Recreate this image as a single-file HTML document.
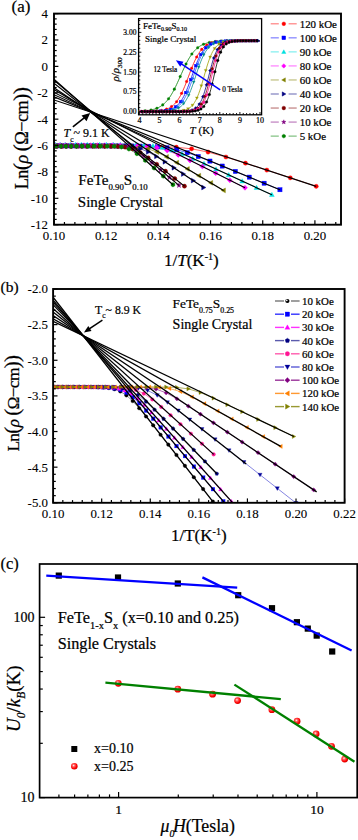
<!DOCTYPE html><html><head><meta charset="utf-8"><style>html,body{margin:0;padding:0;background:#fff;overflow:hidden}svg{display:block}text{font-family:"Liberation Serif",serif;fill:#000;stroke:#000;stroke-width:0.22px}text.tl{stroke-width:0.1px}</style></head><body>
<svg width="358" height="840" viewBox="0 0 358 840">
<rect width="358" height="840" fill="#fff"/>
<defs><clipPath id="ca"><rect x="54.0" y="13.6" width="287.0" height="211.1"/></clipPath></defs>
<g clip-path="url(#ca)">
<path d="M55.9,146.2 L62.97,146.2 L70.43,146.2 L78.31,146.2 L86.66,146.2 L95.51,146.2 L104.9,146.2 L114.9,146.21 L125.56,146.22 L136.96,146.26 L149.16,146.34 L162.26,146.58 L176.36,147.22 L191.58,148.82 L208.05,152.07 L225.95,157.02 L245.47,163.14 L266.82,170.1 L290.29,177.81 L316.21,186.35" fill="none" stroke="#ff0000" stroke-width="0.6" stroke-linejoin="round"/>
<path d="M52.98,145.93 L57.73,145.93 L62.65,145.93 L67.76,145.93 L73.06,145.93 L78.58,145.93 L84.31,145.93 L90.29,145.94 L96.51,145.94 L102.99,145.94 L109.76,145.94 L116.84,145.96 L124.23,145.98 L131.98,146.02 L140.09,146.12 L148.6,146.34 L157.54,146.83 L166.94,147.84 L176.83,149.73 L187.27,152.68 L198.29,156.56 L209.94,161.08 L222.28,166.06 L235.38,171.42 L249.3,177.13 L264.13,183.23 L279.95,189.74" fill="none" stroke="#0000ff" stroke-width="0.6" stroke-linejoin="round"/>
<path d="M55.32,144.61 L60.15,144.61 L65.17,144.61 L70.37,144.61 L75.78,144.61 L81.4,144.61 L87.25,144.62 L93.35,144.62 L99.7,144.62 L106.32,144.63 L113.24,144.64 L120.47,144.67 L128.04,144.73 L135.96,144.88 L144.27,145.21 L152.99,145.98 L162.15,147.54 L171.79,150.23 L181.95,154.01 L192.67,158.57 L204,163.64 L215.99,169.11 L228.7,174.93 L242.19,181.13 L256.55,187.72 L271.86,194.75" fill="none" stroke="#00e0e0" stroke-width="0.6" stroke-linejoin="round"/>
<path d="M54.69,145.27 L60.04,145.27 L65.62,145.27 L71.43,145.27 L77.5,145.27 L83.84,145.27 L90.47,145.28 L97.41,145.28 L104.67,145.28 L112.3,145.29 L120.3,145.32 L128.72,145.4 L137.59,145.61 L146.93,146.18 L156.79,147.62 L167.23,150.52 L178.27,154.96 L189.99,160.44 L202.45,166.55 L215.71,173.15 L229.86,180.21 L244.99,187.76" fill="none" stroke="#ff00ff" stroke-width="0.6" stroke-linejoin="round"/>
<path d="M55.43,145.93 L60.4,145.93 L65.56,145.93 L70.93,145.93 L76.52,145.93 L82.33,145.93 L88.38,145.93 L94.7,145.94 L101.29,145.94 L108.18,145.95 L115.38,145.98 L122.91,146.06 L130.81,146.3 L139.1,146.98 L147.8,148.7 L156.95,152.05 L166.59,156.9 L176.75,162.65 L187.48,168.95 L198.82,175.68 L210.84,182.82 L223.59,190.4" fill="none" stroke="#808000" stroke-width="0.6" stroke-linejoin="round"/>
<path d="M54.33,145.93 L58.72,145.93 L63.26,145.93 L67.96,145.93 L72.82,145.93 L77.86,145.93 L83.08,145.93 L88.49,145.93 L94.12,145.94 L99.96,145.94 L106.03,145.95 L112.35,145.99 L118.93,146.08 L125.79,146.34 L132.94,147.03 L140.4,148.71 L148.2,151.89 L156.36,156.45 L164.9,161.85 L173.85,167.73 L183.25,173.98 L193.12,180.56 L203.5,187.49" fill="none" stroke="#000080" stroke-width="0.6" stroke-linejoin="round"/>
<path d="M56.72,146.33 L61.33,146.33 L66.1,146.33 L71.05,146.33 L76.17,146.33 L81.49,146.33 L87.02,146.33 L92.76,146.33 L98.72,146.34 L104.93,146.35 L111.4,146.4 L118.14,146.58 L125.18,147.15 L132.52,148.84 L140.2,152.49 L148.23,157.91 L156.64,164.3 L165.46,171.2 L174.72,178.5 L184.45,186.17" fill="none" stroke="#800000" stroke-width="0.6" stroke-linejoin="round"/>
<path d="M54.23,145.93 L58.75,145.93 L63.43,145.93 L68.27,145.93 L73.3,145.93 L78.51,145.93 L83.92,145.93 L89.53,145.93 L95.37,145.94 L101.45,145.95 L107.77,145.98 L114.36,146.08 L121.22,146.46 L128.39,147.71 L135.88,150.88 L143.71,156.18 L151.91,162.72 L160.5,169.87 L169.51,177.43 L178.98,185.38" fill="none" stroke="#800080" stroke-width="0.6" stroke-linejoin="round"/>
<path d="M55.89,146.2 L60.74,146.2 L65.78,146.2 L71,146.2 L76.44,146.2 L82.09,146.2 L87.97,146.2 L94.09,146.2 L100.47,146.21 L107.13,146.25 L114.09,146.39 L121.36,146.98 L128.96,149.02 L136.93,153.67 L145.28,160.37 L154.05,167.99 L163.27,176.13 L172.97,184.72" fill="none" stroke="#008000" stroke-width="0.6" stroke-linejoin="round"/>
<circle cx="55.9" cy="146.2" r="2.1" fill="#ff0000" stroke="#ff0000" stroke-width="0.4"/>
<circle cx="62.97" cy="146.2" r="2.1" fill="#ff0000" stroke="#ff0000" stroke-width="0.4"/>
<circle cx="70.43" cy="146.2" r="2.1" fill="#ff0000" stroke="#ff0000" stroke-width="0.4"/>
<circle cx="78.31" cy="146.2" r="2.1" fill="#ff0000" stroke="#ff0000" stroke-width="0.4"/>
<circle cx="86.66" cy="146.2" r="2.1" fill="#ff0000" stroke="#ff0000" stroke-width="0.4"/>
<circle cx="95.51" cy="146.2" r="2.1" fill="#ff0000" stroke="#ff0000" stroke-width="0.4"/>
<circle cx="104.9" cy="146.2" r="2.1" fill="#ff0000" stroke="#ff0000" stroke-width="0.4"/>
<circle cx="114.9" cy="146.21" r="2.1" fill="#ff0000" stroke="#ff0000" stroke-width="0.4"/>
<circle cx="125.56" cy="146.22" r="2.1" fill="#ff0000" stroke="#ff0000" stroke-width="0.4"/>
<circle cx="136.96" cy="146.26" r="2.1" fill="#ff0000" stroke="#ff0000" stroke-width="0.4"/>
<circle cx="149.16" cy="146.34" r="2.1" fill="#ff0000" stroke="#ff0000" stroke-width="0.4"/>
<circle cx="162.26" cy="146.58" r="2.1" fill="#ff0000" stroke="#ff0000" stroke-width="0.4"/>
<circle cx="176.36" cy="147.22" r="2.1" fill="#ff0000" stroke="#ff0000" stroke-width="0.4"/>
<circle cx="191.58" cy="148.82" r="2.1" fill="#ff0000" stroke="#ff0000" stroke-width="0.4"/>
<circle cx="208.05" cy="152.07" r="2.1" fill="#ff0000" stroke="#ff0000" stroke-width="0.4"/>
<circle cx="225.95" cy="157.02" r="2.1" fill="#ff0000" stroke="#ff0000" stroke-width="0.4"/>
<circle cx="245.47" cy="163.14" r="2.1" fill="#ff0000" stroke="#ff0000" stroke-width="0.4"/>
<circle cx="266.82" cy="170.1" r="2.1" fill="#ff0000" stroke="#ff0000" stroke-width="0.4"/>
<circle cx="290.29" cy="177.81" r="2.1" fill="#ff0000" stroke="#ff0000" stroke-width="0.4"/>
<circle cx="316.21" cy="186.35" r="2.1" fill="#ff0000" stroke="#ff0000" stroke-width="0.4"/>
<rect x="50.88" y="143.83" width="4.2" height="4.2" fill="#0000ff" stroke="#0000ff" stroke-width="0.4"/>
<rect x="55.63" y="143.83" width="4.2" height="4.2" fill="#0000ff" stroke="#0000ff" stroke-width="0.4"/>
<rect x="60.55" y="143.83" width="4.2" height="4.2" fill="#0000ff" stroke="#0000ff" stroke-width="0.4"/>
<rect x="65.66" y="143.83" width="4.2" height="4.2" fill="#0000ff" stroke="#0000ff" stroke-width="0.4"/>
<rect x="70.96" y="143.83" width="4.2" height="4.2" fill="#0000ff" stroke="#0000ff" stroke-width="0.4"/>
<rect x="76.48" y="143.83" width="4.2" height="4.2" fill="#0000ff" stroke="#0000ff" stroke-width="0.4"/>
<rect x="82.21" y="143.83" width="4.2" height="4.2" fill="#0000ff" stroke="#0000ff" stroke-width="0.4"/>
<rect x="88.19" y="143.84" width="4.2" height="4.2" fill="#0000ff" stroke="#0000ff" stroke-width="0.4"/>
<rect x="94.41" y="143.84" width="4.2" height="4.2" fill="#0000ff" stroke="#0000ff" stroke-width="0.4"/>
<rect x="100.89" y="143.84" width="4.2" height="4.2" fill="#0000ff" stroke="#0000ff" stroke-width="0.4"/>
<rect x="107.66" y="143.84" width="4.2" height="4.2" fill="#0000ff" stroke="#0000ff" stroke-width="0.4"/>
<rect x="114.74" y="143.86" width="4.2" height="4.2" fill="#0000ff" stroke="#0000ff" stroke-width="0.4"/>
<rect x="122.13" y="143.88" width="4.2" height="4.2" fill="#0000ff" stroke="#0000ff" stroke-width="0.4"/>
<rect x="129.88" y="143.92" width="4.2" height="4.2" fill="#0000ff" stroke="#0000ff" stroke-width="0.4"/>
<rect x="137.99" y="144.02" width="4.2" height="4.2" fill="#0000ff" stroke="#0000ff" stroke-width="0.4"/>
<rect x="146.5" y="144.24" width="4.2" height="4.2" fill="#0000ff" stroke="#0000ff" stroke-width="0.4"/>
<rect x="155.44" y="144.73" width="4.2" height="4.2" fill="#0000ff" stroke="#0000ff" stroke-width="0.4"/>
<rect x="164.84" y="145.74" width="4.2" height="4.2" fill="#0000ff" stroke="#0000ff" stroke-width="0.4"/>
<rect x="174.73" y="147.63" width="4.2" height="4.2" fill="#0000ff" stroke="#0000ff" stroke-width="0.4"/>
<rect x="185.17" y="150.58" width="4.2" height="4.2" fill="#0000ff" stroke="#0000ff" stroke-width="0.4"/>
<rect x="196.19" y="154.46" width="4.2" height="4.2" fill="#0000ff" stroke="#0000ff" stroke-width="0.4"/>
<rect x="207.84" y="158.98" width="4.2" height="4.2" fill="#0000ff" stroke="#0000ff" stroke-width="0.4"/>
<rect x="220.18" y="163.96" width="4.2" height="4.2" fill="#0000ff" stroke="#0000ff" stroke-width="0.4"/>
<rect x="233.28" y="169.32" width="4.2" height="4.2" fill="#0000ff" stroke="#0000ff" stroke-width="0.4"/>
<rect x="247.2" y="175.03" width="4.2" height="4.2" fill="#0000ff" stroke="#0000ff" stroke-width="0.4"/>
<rect x="262.03" y="181.13" width="4.2" height="4.2" fill="#0000ff" stroke="#0000ff" stroke-width="0.4"/>
<rect x="277.85" y="187.64" width="4.2" height="4.2" fill="#0000ff" stroke="#0000ff" stroke-width="0.4"/>
<polygon points="55.32,142.2 57.74,146.43 52.91,146.43" fill="#00e0e0" stroke="#00e0e0" stroke-width="0.4"/>
<polygon points="60.15,142.2 62.57,146.43 57.74,146.43" fill="#00e0e0" stroke="#00e0e0" stroke-width="0.4"/>
<polygon points="65.17,142.2 67.58,146.43 62.75,146.43" fill="#00e0e0" stroke="#00e0e0" stroke-width="0.4"/>
<polygon points="70.37,142.2 72.79,146.43 67.96,146.43" fill="#00e0e0" stroke="#00e0e0" stroke-width="0.4"/>
<polygon points="75.78,142.2 78.19,146.43 73.36,146.43" fill="#00e0e0" stroke="#00e0e0" stroke-width="0.4"/>
<polygon points="81.4,142.2 83.82,146.43 78.99,146.43" fill="#00e0e0" stroke="#00e0e0" stroke-width="0.4"/>
<polygon points="87.25,142.2 89.67,146.43 84.84,146.43" fill="#00e0e0" stroke="#00e0e0" stroke-width="0.4"/>
<polygon points="93.35,142.2 95.76,146.43 90.93,146.43" fill="#00e0e0" stroke="#00e0e0" stroke-width="0.4"/>
<polygon points="99.7,142.21 102.11,146.43 97.28,146.43" fill="#00e0e0" stroke="#00e0e0" stroke-width="0.4"/>
<polygon points="106.32,142.21 108.74,146.44 103.91,146.44" fill="#00e0e0" stroke="#00e0e0" stroke-width="0.4"/>
<polygon points="113.24,142.22 115.66,146.45 110.83,146.45" fill="#00e0e0" stroke="#00e0e0" stroke-width="0.4"/>
<polygon points="120.47,142.25 122.89,146.48 118.06,146.48" fill="#00e0e0" stroke="#00e0e0" stroke-width="0.4"/>
<polygon points="128.04,142.32 130.45,146.54 125.62,146.54" fill="#00e0e0" stroke="#00e0e0" stroke-width="0.4"/>
<polygon points="135.96,142.46 138.37,146.69 133.54,146.69" fill="#00e0e0" stroke="#00e0e0" stroke-width="0.4"/>
<polygon points="144.27,142.8 146.68,147.02 141.85,147.02" fill="#00e0e0" stroke="#00e0e0" stroke-width="0.4"/>
<polygon points="152.99,143.56 155.4,147.79 150.57,147.79" fill="#00e0e0" stroke="#00e0e0" stroke-width="0.4"/>
<polygon points="162.15,145.13 164.56,149.35 159.73,149.35" fill="#00e0e0" stroke="#00e0e0" stroke-width="0.4"/>
<polygon points="171.79,147.82 174.21,152.04 169.38,152.04" fill="#00e0e0" stroke="#00e0e0" stroke-width="0.4"/>
<polygon points="181.95,151.6 184.37,155.82 179.54,155.82" fill="#00e0e0" stroke="#00e0e0" stroke-width="0.4"/>
<polygon points="192.67,156.16 195.09,160.38 190.26,160.38" fill="#00e0e0" stroke="#00e0e0" stroke-width="0.4"/>
<polygon points="204,161.23 206.41,165.46 201.58,165.46" fill="#00e0e0" stroke="#00e0e0" stroke-width="0.4"/>
<polygon points="215.99,166.69 218.4,170.92 213.57,170.92" fill="#00e0e0" stroke="#00e0e0" stroke-width="0.4"/>
<polygon points="228.7,172.52 231.11,176.74 226.28,176.74" fill="#00e0e0" stroke="#00e0e0" stroke-width="0.4"/>
<polygon points="242.19,178.71 244.61,182.94 239.78,182.94" fill="#00e0e0" stroke="#00e0e0" stroke-width="0.4"/>
<polygon points="256.55,185.31 258.97,189.53 254.14,189.53" fill="#00e0e0" stroke="#00e0e0" stroke-width="0.4"/>
<polygon points="271.86,192.34 274.27,196.56 269.44,196.56" fill="#00e0e0" stroke="#00e0e0" stroke-width="0.4"/>
<polygon points="54.69,142.75 57.21,145.27 54.69,147.79 52.17,145.27" fill="#ff00ff" stroke="#ff00ff" stroke-width="0.4"/>
<polygon points="60.04,142.75 62.56,145.27 60.04,147.79 57.52,145.27" fill="#ff00ff" stroke="#ff00ff" stroke-width="0.4"/>
<polygon points="65.62,142.75 68.14,145.27 65.62,147.79 63.1,145.27" fill="#ff00ff" stroke="#ff00ff" stroke-width="0.4"/>
<polygon points="71.43,142.75 73.95,145.27 71.43,147.79 68.91,145.27" fill="#ff00ff" stroke="#ff00ff" stroke-width="0.4"/>
<polygon points="77.5,142.75 80.02,145.27 77.5,147.79 74.98,145.27" fill="#ff00ff" stroke="#ff00ff" stroke-width="0.4"/>
<polygon points="83.84,142.75 86.36,145.27 83.84,147.79 81.32,145.27" fill="#ff00ff" stroke="#ff00ff" stroke-width="0.4"/>
<polygon points="90.47,142.76 92.99,145.28 90.47,147.8 87.95,145.28" fill="#ff00ff" stroke="#ff00ff" stroke-width="0.4"/>
<polygon points="97.41,142.76 99.93,145.28 97.41,147.8 94.89,145.28" fill="#ff00ff" stroke="#ff00ff" stroke-width="0.4"/>
<polygon points="104.67,142.76 107.19,145.28 104.67,147.8 102.15,145.28" fill="#ff00ff" stroke="#ff00ff" stroke-width="0.4"/>
<polygon points="112.3,142.77 114.82,145.29 112.3,147.81 109.78,145.29" fill="#ff00ff" stroke="#ff00ff" stroke-width="0.4"/>
<polygon points="120.3,142.8 122.82,145.32 120.3,147.84 117.78,145.32" fill="#ff00ff" stroke="#ff00ff" stroke-width="0.4"/>
<polygon points="128.72,142.88 131.24,145.4 128.72,147.92 126.2,145.4" fill="#ff00ff" stroke="#ff00ff" stroke-width="0.4"/>
<polygon points="137.59,143.09 140.11,145.61 137.59,148.13 135.07,145.61" fill="#ff00ff" stroke="#ff00ff" stroke-width="0.4"/>
<polygon points="146.93,143.66 149.45,146.18 146.93,148.7 144.41,146.18" fill="#ff00ff" stroke="#ff00ff" stroke-width="0.4"/>
<polygon points="156.79,145.1 159.31,147.62 156.79,150.14 154.27,147.62" fill="#ff00ff" stroke="#ff00ff" stroke-width="0.4"/>
<polygon points="167.23,148 169.75,150.52 167.23,153.04 164.71,150.52" fill="#ff00ff" stroke="#ff00ff" stroke-width="0.4"/>
<polygon points="178.27,152.44 180.79,154.96 178.27,157.48 175.75,154.96" fill="#ff00ff" stroke="#ff00ff" stroke-width="0.4"/>
<polygon points="189.99,157.92 192.51,160.44 189.99,162.96 187.47,160.44" fill="#ff00ff" stroke="#ff00ff" stroke-width="0.4"/>
<polygon points="202.45,164.03 204.97,166.55 202.45,169.07 199.93,166.55" fill="#ff00ff" stroke="#ff00ff" stroke-width="0.4"/>
<polygon points="215.71,170.63 218.23,173.15 215.71,175.67 213.19,173.15" fill="#ff00ff" stroke="#ff00ff" stroke-width="0.4"/>
<polygon points="229.86,177.69 232.38,180.21 229.86,182.73 227.34,180.21" fill="#ff00ff" stroke="#ff00ff" stroke-width="0.4"/>
<polygon points="244.99,185.24 247.51,187.76 244.99,190.28 242.47,187.76" fill="#ff00ff" stroke="#ff00ff" stroke-width="0.4"/>
<polygon points="53.01,145.93 57.24,143.52 57.24,148.35" fill="#808000" stroke="#808000" stroke-width="0.4"/>
<polygon points="57.98,145.93 62.21,143.52 62.21,148.35" fill="#808000" stroke="#808000" stroke-width="0.4"/>
<polygon points="63.15,145.93 67.37,143.52 67.37,148.35" fill="#808000" stroke="#808000" stroke-width="0.4"/>
<polygon points="68.52,145.93 72.74,143.52 72.74,148.35" fill="#808000" stroke="#808000" stroke-width="0.4"/>
<polygon points="74.1,145.93 78.33,143.52 78.33,148.35" fill="#808000" stroke="#808000" stroke-width="0.4"/>
<polygon points="79.91,145.93 84.14,143.52 84.14,148.35" fill="#808000" stroke="#808000" stroke-width="0.4"/>
<polygon points="85.97,145.93 90.19,143.52 90.19,148.35" fill="#808000" stroke="#808000" stroke-width="0.4"/>
<polygon points="92.28,145.94 96.51,143.52 96.51,148.35" fill="#808000" stroke="#808000" stroke-width="0.4"/>
<polygon points="98.87,145.94 103.1,143.53 103.1,148.36" fill="#808000" stroke="#808000" stroke-width="0.4"/>
<polygon points="105.76,145.95 109.99,143.54 109.99,148.37" fill="#808000" stroke="#808000" stroke-width="0.4"/>
<polygon points="112.96,145.98 117.19,143.57 117.19,148.4" fill="#808000" stroke="#808000" stroke-width="0.4"/>
<polygon points="120.5,146.06 124.72,143.65 124.72,148.48" fill="#808000" stroke="#808000" stroke-width="0.4"/>
<polygon points="128.4,146.3 132.62,143.89 132.62,148.72" fill="#808000" stroke="#808000" stroke-width="0.4"/>
<polygon points="136.68,146.98 140.91,144.57 140.91,149.4" fill="#808000" stroke="#808000" stroke-width="0.4"/>
<polygon points="145.38,148.7 149.61,146.28 149.61,151.11" fill="#808000" stroke="#808000" stroke-width="0.4"/>
<polygon points="154.54,152.05 158.76,149.63 158.76,154.46" fill="#808000" stroke="#808000" stroke-width="0.4"/>
<polygon points="164.17,156.9 168.4,154.48 168.4,159.31" fill="#808000" stroke="#808000" stroke-width="0.4"/>
<polygon points="174.33,162.65 178.56,160.24 178.56,165.07" fill="#808000" stroke="#808000" stroke-width="0.4"/>
<polygon points="185.06,168.95 189.29,166.54 189.29,171.37" fill="#808000" stroke="#808000" stroke-width="0.4"/>
<polygon points="196.41,175.68 200.63,173.26 200.63,178.09" fill="#808000" stroke="#808000" stroke-width="0.4"/>
<polygon points="208.42,182.82 212.65,180.4 212.65,185.23" fill="#808000" stroke="#808000" stroke-width="0.4"/>
<polygon points="221.18,190.4 225.4,187.98 225.4,192.81" fill="#808000" stroke="#808000" stroke-width="0.4"/>
<polygon points="56.75,145.93 52.52,143.52 52.52,148.35" fill="#000080" stroke="#000080" stroke-width="0.4"/>
<polygon points="61.14,145.93 56.91,143.52 56.91,148.35" fill="#000080" stroke="#000080" stroke-width="0.4"/>
<polygon points="65.67,145.93 61.45,143.52 61.45,148.35" fill="#000080" stroke="#000080" stroke-width="0.4"/>
<polygon points="70.37,145.93 66.14,143.52 66.14,148.35" fill="#000080" stroke="#000080" stroke-width="0.4"/>
<polygon points="75.23,145.93 71.01,143.52 71.01,148.35" fill="#000080" stroke="#000080" stroke-width="0.4"/>
<polygon points="80.27,145.93 76.04,143.52 76.04,148.35" fill="#000080" stroke="#000080" stroke-width="0.4"/>
<polygon points="85.49,145.93 81.27,143.52 81.27,148.35" fill="#000080" stroke="#000080" stroke-width="0.4"/>
<polygon points="90.91,145.93 86.68,143.52 86.68,148.35" fill="#000080" stroke="#000080" stroke-width="0.4"/>
<polygon points="96.53,145.94 92.31,143.52 92.31,148.35" fill="#000080" stroke="#000080" stroke-width="0.4"/>
<polygon points="102.38,145.94 98.15,143.53 98.15,148.36" fill="#000080" stroke="#000080" stroke-width="0.4"/>
<polygon points="108.45,145.95 104.22,143.54 104.22,148.37" fill="#000080" stroke="#000080" stroke-width="0.4"/>
<polygon points="114.77,145.99 110.54,143.57 110.54,148.4" fill="#000080" stroke="#000080" stroke-width="0.4"/>
<polygon points="121.35,146.08 117.12,143.66 117.12,148.49" fill="#000080" stroke="#000080" stroke-width="0.4"/>
<polygon points="128.2,146.34 123.98,143.92 123.98,148.75" fill="#000080" stroke="#000080" stroke-width="0.4"/>
<polygon points="135.35,147.03 131.13,144.62 131.13,149.45" fill="#000080" stroke="#000080" stroke-width="0.4"/>
<polygon points="142.82,148.71 138.59,146.3 138.59,151.13" fill="#000080" stroke="#000080" stroke-width="0.4"/>
<polygon points="150.62,151.89 146.39,149.48 146.39,154.31" fill="#000080" stroke="#000080" stroke-width="0.4"/>
<polygon points="158.77,156.45 154.55,154.03 154.55,158.86" fill="#000080" stroke="#000080" stroke-width="0.4"/>
<polygon points="167.32,161.85 163.09,159.43 163.09,164.26" fill="#000080" stroke="#000080" stroke-width="0.4"/>
<polygon points="176.27,167.73 172.04,165.32 172.04,170.15" fill="#000080" stroke="#000080" stroke-width="0.4"/>
<polygon points="185.66,173.98 181.44,171.57 181.44,176.4" fill="#000080" stroke="#000080" stroke-width="0.4"/>
<polygon points="195.53,180.56 191.31,178.15 191.31,182.98" fill="#000080" stroke="#000080" stroke-width="0.4"/>
<polygon points="205.92,187.49 201.69,185.08 201.69,189.91" fill="#000080" stroke="#000080" stroke-width="0.4"/>
<circle cx="56.72" cy="146.33" r="2.1" fill="#800000" stroke="#800000" stroke-width="0.4"/>
<circle cx="61.33" cy="146.33" r="2.1" fill="#800000" stroke="#800000" stroke-width="0.4"/>
<circle cx="66.1" cy="146.33" r="2.1" fill="#800000" stroke="#800000" stroke-width="0.4"/>
<circle cx="71.05" cy="146.33" r="2.1" fill="#800000" stroke="#800000" stroke-width="0.4"/>
<circle cx="76.17" cy="146.33" r="2.1" fill="#800000" stroke="#800000" stroke-width="0.4"/>
<circle cx="81.49" cy="146.33" r="2.1" fill="#800000" stroke="#800000" stroke-width="0.4"/>
<circle cx="87.02" cy="146.33" r="2.1" fill="#800000" stroke="#800000" stroke-width="0.4"/>
<circle cx="92.76" cy="146.33" r="2.1" fill="#800000" stroke="#800000" stroke-width="0.4"/>
<circle cx="98.72" cy="146.34" r="2.1" fill="#800000" stroke="#800000" stroke-width="0.4"/>
<circle cx="104.93" cy="146.35" r="2.1" fill="#800000" stroke="#800000" stroke-width="0.4"/>
<circle cx="111.4" cy="146.4" r="2.1" fill="#800000" stroke="#800000" stroke-width="0.4"/>
<circle cx="118.14" cy="146.58" r="2.1" fill="#800000" stroke="#800000" stroke-width="0.4"/>
<circle cx="125.18" cy="147.15" r="2.1" fill="#800000" stroke="#800000" stroke-width="0.4"/>
<circle cx="132.52" cy="148.84" r="2.1" fill="#800000" stroke="#800000" stroke-width="0.4"/>
<circle cx="140.2" cy="152.49" r="2.1" fill="#800000" stroke="#800000" stroke-width="0.4"/>
<circle cx="148.23" cy="157.91" r="2.1" fill="#800000" stroke="#800000" stroke-width="0.4"/>
<circle cx="156.64" cy="164.3" r="2.1" fill="#800000" stroke="#800000" stroke-width="0.4"/>
<circle cx="165.46" cy="171.2" r="2.1" fill="#800000" stroke="#800000" stroke-width="0.4"/>
<circle cx="174.72" cy="178.5" r="2.1" fill="#800000" stroke="#800000" stroke-width="0.4"/>
<circle cx="184.45" cy="186.17" r="2.1" fill="#800000" stroke="#800000" stroke-width="0.4"/>
<polygon points="54.23,143.31 54.84,145.08 56.72,145.12 55.23,146.26 55.77,148.06 54.23,146.98 52.68,148.06 53.23,146.26 51.73,145.12 53.61,145.08" fill="#800080" stroke="#800080" stroke-width="0.4"/>
<polygon points="58.75,143.31 59.36,145.08 61.24,145.12 59.75,146.26 60.29,148.06 58.75,146.98 57.2,148.06 57.75,146.26 56.25,145.12 58.13,145.08" fill="#800080" stroke="#800080" stroke-width="0.4"/>
<polygon points="63.43,143.31 64.04,145.08 65.92,145.12 64.42,146.26 64.97,148.06 63.43,146.98 61.88,148.06 62.43,146.26 60.93,145.12 62.81,145.08" fill="#800080" stroke="#800080" stroke-width="0.4"/>
<polygon points="68.27,143.31 68.89,145.08 70.77,145.12 69.27,146.26 69.82,148.06 68.27,146.98 66.73,148.06 67.27,146.26 65.78,145.12 67.66,145.08" fill="#800080" stroke="#800080" stroke-width="0.4"/>
<polygon points="73.3,143.31 73.91,145.08 75.79,145.12 74.3,146.26 74.84,148.06 73.3,146.98 71.75,148.06 72.3,146.26 70.8,145.12 72.68,145.08" fill="#800080" stroke="#800080" stroke-width="0.4"/>
<polygon points="78.51,143.31 79.13,145.08 81,145.12 79.51,146.26 80.05,148.06 78.51,146.98 76.97,148.06 77.51,146.26 76.01,145.12 77.89,145.08" fill="#800080" stroke="#800080" stroke-width="0.4"/>
<polygon points="83.92,143.31 84.53,145.08 86.41,145.12 84.92,146.26 85.46,148.06 83.92,146.98 82.37,148.06 82.92,146.26 81.42,145.12 83.3,145.08" fill="#800080" stroke="#800080" stroke-width="0.4"/>
<polygon points="89.53,143.31 90.15,145.09 92.03,145.12 90.53,146.26 91.08,148.06 89.53,146.98 87.99,148.06 88.54,146.26 87.04,145.12 88.92,145.09" fill="#800080" stroke="#800080" stroke-width="0.4"/>
<polygon points="95.37,143.31 95.99,145.09 97.87,145.13 96.37,146.26 96.92,148.06 95.37,146.99 93.83,148.06 94.37,146.26 92.88,145.13 94.76,145.09" fill="#800080" stroke="#800080" stroke-width="0.4"/>
<polygon points="101.45,143.32 102.06,145.1 103.94,145.13 102.44,146.27 102.99,148.07 101.45,147 99.9,148.07 100.45,146.27 98.95,145.13 100.83,145.1" fill="#800080" stroke="#800080" stroke-width="0.4"/>
<polygon points="107.77,143.35 108.39,145.13 110.26,145.16 108.77,146.3 109.31,148.1 107.77,147.03 106.23,148.1 106.77,146.3 105.27,145.16 107.15,145.13" fill="#800080" stroke="#800080" stroke-width="0.4"/>
<polygon points="114.36,143.45 114.97,145.23 116.85,145.27 115.35,146.4 115.9,148.2 114.36,147.13 112.81,148.2 113.36,146.4 111.86,145.27 113.74,145.23" fill="#800080" stroke="#800080" stroke-width="0.4"/>
<polygon points="121.22,143.83 121.84,145.61 123.72,145.64 122.22,146.78 122.77,148.58 121.22,147.51 119.68,148.58 120.23,146.78 118.73,145.64 120.61,145.61" fill="#800080" stroke="#800080" stroke-width="0.4"/>
<polygon points="128.39,145.08 129.01,146.86 130.89,146.89 129.39,148.03 129.94,149.83 128.39,148.76 126.85,149.83 127.39,148.03 125.9,146.89 127.78,146.86" fill="#800080" stroke="#800080" stroke-width="0.4"/>
<polygon points="135.88,148.25 136.5,150.03 138.38,150.07 136.88,151.2 137.42,153 135.88,151.93 134.34,153 134.88,151.2 133.39,150.07 135.26,150.03" fill="#800080" stroke="#800080" stroke-width="0.4"/>
<polygon points="143.71,153.56 144.33,155.33 146.21,155.37 144.71,156.51 145.26,158.31 143.71,157.23 142.17,158.31 142.71,156.51 141.22,155.37 143.1,155.33" fill="#800080" stroke="#800080" stroke-width="0.4"/>
<polygon points="151.91,160.1 152.53,161.87 154.41,161.91 152.91,163.05 153.45,164.85 151.91,163.77 150.37,164.85 150.91,163.05 149.41,161.91 151.29,161.87" fill="#800080" stroke="#800080" stroke-width="0.4"/>
<polygon points="160.5,167.24 161.12,169.02 163,169.06 161.5,170.19 162.04,171.99 160.5,170.92 158.96,171.99 159.5,170.19 158,169.06 159.88,169.02" fill="#800080" stroke="#800080" stroke-width="0.4"/>
<polygon points="169.51,174.8 170.13,176.58 172.01,176.62 170.51,177.75 171.05,179.55 169.51,178.48 167.97,179.55 168.51,177.75 167.01,176.62 168.89,176.58" fill="#800080" stroke="#800080" stroke-width="0.4"/>
<polygon points="178.98,182.76 179.59,184.53 181.47,184.57 179.97,185.71 180.52,187.51 178.98,186.43 177.43,187.51 177.98,185.71 176.48,184.57 178.36,184.53" fill="#800080" stroke="#800080" stroke-width="0.4"/>
<polygon points="57.8,147.3 55.89,148.4 53.98,147.3 53.98,145.09 55.89,143.99 57.8,145.09" fill="#008000" stroke="#008000" stroke-width="0.4"/>
<polygon points="62.65,147.3 60.74,148.4 58.83,147.3 58.83,145.09 60.74,143.99 62.65,145.09" fill="#008000" stroke="#008000" stroke-width="0.4"/>
<polygon points="67.69,147.3 65.78,148.4 63.87,147.3 63.87,145.09 65.78,143.99 67.69,145.09" fill="#008000" stroke="#008000" stroke-width="0.4"/>
<polygon points="72.91,147.3 71,148.4 69.1,147.3 69.1,145.09 71,143.99 72.91,145.09" fill="#008000" stroke="#008000" stroke-width="0.4"/>
<polygon points="78.35,147.3 76.44,148.4 74.53,147.3 74.53,145.09 76.44,143.99 78.35,145.09" fill="#008000" stroke="#008000" stroke-width="0.4"/>
<polygon points="84,147.3 82.09,148.4 80.18,147.3 80.18,145.09 82.09,143.99 84,145.09" fill="#008000" stroke="#008000" stroke-width="0.4"/>
<polygon points="89.88,147.3 87.97,148.4 86.06,147.3 86.06,145.1 87.97,143.99 89.88,145.1" fill="#008000" stroke="#008000" stroke-width="0.4"/>
<polygon points="96,147.3 94.09,148.41 92.18,147.3 92.18,145.1 94.09,144 96,145.1" fill="#008000" stroke="#008000" stroke-width="0.4"/>
<polygon points="102.38,147.31 100.47,148.41 98.56,147.31 98.56,145.11 100.47,144 102.38,145.11" fill="#008000" stroke="#008000" stroke-width="0.4"/>
<polygon points="109.04,147.35 107.13,148.45 105.22,147.35 105.22,145.14 107.13,144.04 109.04,145.14" fill="#008000" stroke="#008000" stroke-width="0.4"/>
<polygon points="116,147.49 114.09,148.6 112.18,147.49 112.18,145.29 114.09,144.19 116,145.29" fill="#008000" stroke="#008000" stroke-width="0.4"/>
<polygon points="123.27,148.08 121.36,149.18 119.45,148.08 119.45,145.87 121.36,144.77 123.27,145.87" fill="#008000" stroke="#008000" stroke-width="0.4"/>
<polygon points="130.87,150.12 128.96,151.22 127.05,150.12 127.05,147.91 128.96,146.81 130.87,147.91" fill="#008000" stroke="#008000" stroke-width="0.4"/>
<polygon points="138.84,154.77 136.93,155.88 135.02,154.77 135.02,152.57 136.93,151.47 138.84,152.57" fill="#008000" stroke="#008000" stroke-width="0.4"/>
<polygon points="147.19,161.47 145.28,162.57 143.37,161.47 143.37,159.26 145.28,158.16 147.19,159.26" fill="#008000" stroke="#008000" stroke-width="0.4"/>
<polygon points="155.96,169.09 154.05,170.19 152.14,169.09 152.14,166.89 154.05,165.78 155.96,166.89" fill="#008000" stroke="#008000" stroke-width="0.4"/>
<polygon points="165.18,177.23 163.27,178.34 161.36,177.23 161.36,175.03 163.27,173.93 165.18,175.03" fill="#008000" stroke="#008000" stroke-width="0.4"/>
<polygon points="174.88,185.83 172.97,186.93 171.06,185.83 171.06,183.62 172.97,182.52 174.88,183.62" fill="#008000" stroke="#008000" stroke-width="0.4"/>
<line x1="54" y1="100" x2="316.21" y2="186.35" stroke="#000" stroke-width="1.15"/>
<line x1="54" y1="96.8" x2="279.95" y2="189.74" stroke="#000" stroke-width="1.15"/>
<line x1="54" y1="94.7" x2="271.86" y2="194.75" stroke="#000" stroke-width="1.15"/>
<line x1="54" y1="92.4" x2="244.99" y2="187.76" stroke="#000" stroke-width="1.15"/>
<line x1="54" y1="89.6" x2="223.59" y2="190.4" stroke="#000" stroke-width="1.15"/>
<line x1="54" y1="87.7" x2="203.5" y2="187.49" stroke="#000" stroke-width="1.15"/>
<line x1="54" y1="83.2" x2="184.45" y2="186.17" stroke="#000" stroke-width="1.15"/>
<line x1="54" y1="80.3" x2="178.98" y2="185.38" stroke="#000" stroke-width="1.15"/>
<line x1="54" y1="79.3" x2="172.97" y2="184.72" stroke="#000" stroke-width="1.15"/>
</g>
<rect x="54.0" y="13.6" width="287.0" height="211.1" fill="none" stroke="#000" stroke-width="1.9"/>
<line x1="54" y1="13.6" x2="58.4" y2="13.6" stroke="#000" stroke-width="1.2"/>
<text x="48" y="18" font-size="12.9" text-anchor="end" class="tl">4</text>
<line x1="54" y1="18.88" x2="56.7" y2="18.88" stroke="#000" stroke-width="1.2"/>
<line x1="54" y1="24.15" x2="56.7" y2="24.15" stroke="#000" stroke-width="1.2"/>
<line x1="54" y1="29.43" x2="56.7" y2="29.43" stroke="#000" stroke-width="1.2"/>
<line x1="54" y1="34.71" x2="56.7" y2="34.71" stroke="#000" stroke-width="1.2"/>
<line x1="54" y1="39.99" x2="58.4" y2="39.99" stroke="#000" stroke-width="1.2"/>
<text x="48" y="44.39" font-size="12.9" text-anchor="end" class="tl">2</text>
<line x1="54" y1="45.27" x2="56.7" y2="45.27" stroke="#000" stroke-width="1.2"/>
<line x1="54" y1="50.54" x2="56.7" y2="50.54" stroke="#000" stroke-width="1.2"/>
<line x1="54" y1="55.82" x2="56.7" y2="55.82" stroke="#000" stroke-width="1.2"/>
<line x1="54" y1="61.1" x2="56.7" y2="61.1" stroke="#000" stroke-width="1.2"/>
<line x1="54" y1="66.38" x2="58.4" y2="66.38" stroke="#000" stroke-width="1.2"/>
<text x="48" y="70.78" font-size="12.9" text-anchor="end" class="tl">0</text>
<line x1="54" y1="71.65" x2="56.7" y2="71.65" stroke="#000" stroke-width="1.2"/>
<line x1="54" y1="76.93" x2="56.7" y2="76.93" stroke="#000" stroke-width="1.2"/>
<line x1="54" y1="82.21" x2="56.7" y2="82.21" stroke="#000" stroke-width="1.2"/>
<line x1="54" y1="87.48" x2="56.7" y2="87.48" stroke="#000" stroke-width="1.2"/>
<line x1="54" y1="92.76" x2="58.4" y2="92.76" stroke="#000" stroke-width="1.2"/>
<text x="48" y="97.16" font-size="12.9" text-anchor="end" class="tl">-2</text>
<line x1="54" y1="98.04" x2="56.7" y2="98.04" stroke="#000" stroke-width="1.2"/>
<line x1="54" y1="103.32" x2="56.7" y2="103.32" stroke="#000" stroke-width="1.2"/>
<line x1="54" y1="108.59" x2="56.7" y2="108.59" stroke="#000" stroke-width="1.2"/>
<line x1="54" y1="113.87" x2="56.7" y2="113.87" stroke="#000" stroke-width="1.2"/>
<line x1="54" y1="119.15" x2="58.4" y2="119.15" stroke="#000" stroke-width="1.2"/>
<text x="48" y="123.55" font-size="12.9" text-anchor="end" class="tl">-4</text>
<line x1="54" y1="124.43" x2="56.7" y2="124.43" stroke="#000" stroke-width="1.2"/>
<line x1="54" y1="129.71" x2="56.7" y2="129.71" stroke="#000" stroke-width="1.2"/>
<line x1="54" y1="134.98" x2="56.7" y2="134.98" stroke="#000" stroke-width="1.2"/>
<line x1="54" y1="140.26" x2="56.7" y2="140.26" stroke="#000" stroke-width="1.2"/>
<line x1="54" y1="145.54" x2="58.4" y2="145.54" stroke="#000" stroke-width="1.2"/>
<text x="48" y="149.94" font-size="12.9" text-anchor="end" class="tl">-6</text>
<line x1="54" y1="150.81" x2="56.7" y2="150.81" stroke="#000" stroke-width="1.2"/>
<line x1="54" y1="156.09" x2="56.7" y2="156.09" stroke="#000" stroke-width="1.2"/>
<line x1="54" y1="161.37" x2="56.7" y2="161.37" stroke="#000" stroke-width="1.2"/>
<line x1="54" y1="166.65" x2="56.7" y2="166.65" stroke="#000" stroke-width="1.2"/>
<line x1="54" y1="171.92" x2="58.4" y2="171.92" stroke="#000" stroke-width="1.2"/>
<text x="48" y="176.32" font-size="12.9" text-anchor="end" class="tl">-8</text>
<line x1="54" y1="177.2" x2="56.7" y2="177.2" stroke="#000" stroke-width="1.2"/>
<line x1="54" y1="182.48" x2="56.7" y2="182.48" stroke="#000" stroke-width="1.2"/>
<line x1="54" y1="187.76" x2="56.7" y2="187.76" stroke="#000" stroke-width="1.2"/>
<line x1="54" y1="193.03" x2="56.7" y2="193.03" stroke="#000" stroke-width="1.2"/>
<line x1="54" y1="198.31" x2="58.4" y2="198.31" stroke="#000" stroke-width="1.2"/>
<text x="48" y="202.71" font-size="12.9" text-anchor="end" class="tl">-10</text>
<line x1="54" y1="203.59" x2="56.7" y2="203.59" stroke="#000" stroke-width="1.2"/>
<line x1="54" y1="208.87" x2="56.7" y2="208.87" stroke="#000" stroke-width="1.2"/>
<line x1="54" y1="214.15" x2="56.7" y2="214.15" stroke="#000" stroke-width="1.2"/>
<line x1="54" y1="219.42" x2="56.7" y2="219.42" stroke="#000" stroke-width="1.2"/>
<line x1="54" y1="224.7" x2="58.4" y2="224.7" stroke="#000" stroke-width="1.2"/>
<text x="48" y="229.1" font-size="12.9" text-anchor="end" class="tl">-12</text>
<line x1="54" y1="224.7" x2="54" y2="220.3" stroke="#000" stroke-width="1.2"/>
<text x="54" y="239.6" font-size="12.9" text-anchor="middle" class="tl">0.10</text>
<line x1="64.44" y1="224.7" x2="64.44" y2="222" stroke="#000" stroke-width="1.2"/>
<line x1="74.87" y1="224.7" x2="74.87" y2="222" stroke="#000" stroke-width="1.2"/>
<line x1="85.31" y1="224.7" x2="85.31" y2="222" stroke="#000" stroke-width="1.2"/>
<line x1="95.75" y1="224.7" x2="95.75" y2="222" stroke="#000" stroke-width="1.2"/>
<line x1="106.18" y1="224.7" x2="106.18" y2="220.3" stroke="#000" stroke-width="1.2"/>
<text x="106.18" y="239.6" font-size="12.9" text-anchor="middle" class="tl">0.12</text>
<line x1="116.62" y1="224.7" x2="116.62" y2="222" stroke="#000" stroke-width="1.2"/>
<line x1="127.05" y1="224.7" x2="127.05" y2="222" stroke="#000" stroke-width="1.2"/>
<line x1="137.49" y1="224.7" x2="137.49" y2="222" stroke="#000" stroke-width="1.2"/>
<line x1="147.93" y1="224.7" x2="147.93" y2="222" stroke="#000" stroke-width="1.2"/>
<line x1="158.36" y1="224.7" x2="158.36" y2="220.3" stroke="#000" stroke-width="1.2"/>
<text x="158.36" y="239.6" font-size="12.9" text-anchor="middle" class="tl">0.14</text>
<line x1="168.8" y1="224.7" x2="168.8" y2="222" stroke="#000" stroke-width="1.2"/>
<line x1="179.24" y1="224.7" x2="179.24" y2="222" stroke="#000" stroke-width="1.2"/>
<line x1="189.67" y1="224.7" x2="189.67" y2="222" stroke="#000" stroke-width="1.2"/>
<line x1="200.11" y1="224.7" x2="200.11" y2="222" stroke="#000" stroke-width="1.2"/>
<line x1="210.55" y1="224.7" x2="210.55" y2="220.3" stroke="#000" stroke-width="1.2"/>
<text x="210.55" y="239.6" font-size="12.9" text-anchor="middle" class="tl">0.16</text>
<line x1="220.98" y1="224.7" x2="220.98" y2="222" stroke="#000" stroke-width="1.2"/>
<line x1="231.42" y1="224.7" x2="231.42" y2="222" stroke="#000" stroke-width="1.2"/>
<line x1="241.85" y1="224.7" x2="241.85" y2="222" stroke="#000" stroke-width="1.2"/>
<line x1="252.29" y1="224.7" x2="252.29" y2="222" stroke="#000" stroke-width="1.2"/>
<line x1="262.73" y1="224.7" x2="262.73" y2="220.3" stroke="#000" stroke-width="1.2"/>
<text x="262.73" y="239.6" font-size="12.9" text-anchor="middle" class="tl">0.18</text>
<line x1="273.16" y1="224.7" x2="273.16" y2="222" stroke="#000" stroke-width="1.2"/>
<line x1="283.6" y1="224.7" x2="283.6" y2="222" stroke="#000" stroke-width="1.2"/>
<line x1="294.04" y1="224.7" x2="294.04" y2="222" stroke="#000" stroke-width="1.2"/>
<line x1="304.47" y1="224.7" x2="304.47" y2="222" stroke="#000" stroke-width="1.2"/>
<line x1="314.91" y1="224.7" x2="314.91" y2="220.3" stroke="#000" stroke-width="1.2"/>
<text x="314.91" y="239.6" font-size="12.9" text-anchor="middle" class="tl">0.20</text>
<line x1="325.35" y1="224.7" x2="325.35" y2="222" stroke="#000" stroke-width="1.2"/>
<line x1="335.78" y1="224.7" x2="335.78" y2="222" stroke="#000" stroke-width="1.2"/>
<text x="11.5" y="12.2" font-size="17" text-anchor="start" >(a)</text>
<text transform="translate(27.6,189.3) rotate(-90)" font-size="18.3" letter-spacing="-0.62">Ln<tspan font-size="22">(</tspan><tspan font-style="italic">ρ</tspan> <tspan font-size="22">(</tspan>Ω−cm<tspan font-size="22">))</tspan></text>
<text x="164" y="265.5" font-size="17">1/<tspan font-style="italic">T</tspan>(K<tspan dy="-6" font-size="10">-1</tspan><tspan dy="6">)</tspan></text>
<text x="63.5" y="137" font-size="12"><tspan font-style="italic">T</tspan><tspan dy="4.5" font-size="7.5">c</tspan><tspan dy="-4.5">~ 9.1 K</tspan></text>
<line x1="72.9" y1="126.8" x2="87" y2="115.6" stroke="#000" stroke-width="1.6"/>
<polygon points="90.2,113.1 81.5,115.5 86.5,121.3" fill="#000"/>
<text x="78.3" y="184.8" font-size="15.2">FeTe<tspan dy="5.3" font-size="8.8">0.90</tspan><tspan dy="-5.3">S</tspan><tspan dy="5.3" font-size="8.8">0.10</tspan></text>
<text x="77.8" y="206.9" font-size="15.0" text-anchor="start" >Single Crystal</text>
<g opacity="0.5"><line x1="270.7" y1="23.8" x2="278.8" y2="23.8" stroke="#ff0000" stroke-width="1.2"/><line x1="288.6" y1="23.8" x2="296.7" y2="23.8" stroke="#ff0000" stroke-width="1.2"/></g>
<circle cx="283.8" cy="23.8" r="1.85" fill="#ff0000" stroke="#ff0000" stroke-width="0.4"/>
<text x="299.7" y="27.8" font-size="10.9" text-anchor="start" >120 kOe</text>
<g opacity="0.5"><line x1="270.7" y1="37.84" x2="278.8" y2="37.84" stroke="#0000ff" stroke-width="1.2"/><line x1="288.6" y1="37.84" x2="296.7" y2="37.84" stroke="#0000ff" stroke-width="1.2"/></g>
<rect x="281.95" y="35.99" width="3.7" height="3.7" fill="#0000ff" stroke="#0000ff" stroke-width="0.4"/>
<text x="299.7" y="41.84" font-size="10.9" text-anchor="start" >100 kOe</text>
<g opacity="0.5"><line x1="270.7" y1="51.88" x2="278.8" y2="51.88" stroke="#00e0e0" stroke-width="1.2"/><line x1="288.6" y1="51.88" x2="296.7" y2="51.88" stroke="#00e0e0" stroke-width="1.2"/></g>
<polygon points="283.8,49.75 285.93,53.48 281.67,53.48" fill="#00e0e0" stroke="#00e0e0" stroke-width="0.4"/>
<text x="299.7" y="55.88" font-size="10.9" text-anchor="start" >90 kOe</text>
<g opacity="0.5"><line x1="270.7" y1="65.92" x2="278.8" y2="65.92" stroke="#ff00ff" stroke-width="1.2"/><line x1="288.6" y1="65.92" x2="296.7" y2="65.92" stroke="#ff00ff" stroke-width="1.2"/></g>
<polygon points="283.8,63.7 286.02,65.92 283.8,68.14 281.58,65.92" fill="#ff00ff" stroke="#ff00ff" stroke-width="0.4"/>
<text x="299.7" y="69.92" font-size="10.9" text-anchor="start" >80 kOe</text>
<g opacity="0.5"><line x1="270.7" y1="79.96" x2="278.8" y2="79.96" stroke="#808000" stroke-width="1.2"/><line x1="288.6" y1="79.96" x2="296.7" y2="79.96" stroke="#808000" stroke-width="1.2"/></g>
<polygon points="281.67,79.96 285.4,77.83 285.4,82.09" fill="#808000" stroke="#808000" stroke-width="0.4"/>
<text x="299.7" y="83.96" font-size="10.9" text-anchor="start" >60 kOe</text>
<g opacity="0.5"><line x1="270.7" y1="94" x2="278.8" y2="94" stroke="#000080" stroke-width="1.2"/><line x1="288.6" y1="94" x2="296.7" y2="94" stroke="#000080" stroke-width="1.2"/></g>
<polygon points="285.93,94 282.2,91.87 282.2,96.13" fill="#000080" stroke="#000080" stroke-width="0.4"/>
<text x="299.7" y="98" font-size="10.9" text-anchor="start" >40 kOe</text>
<g opacity="0.5"><line x1="270.7" y1="108.04" x2="278.8" y2="108.04" stroke="#800000" stroke-width="1.2"/><line x1="288.6" y1="108.04" x2="296.7" y2="108.04" stroke="#800000" stroke-width="1.2"/></g>
<circle cx="283.8" cy="108.04" r="1.85" fill="#800000" stroke="#800000" stroke-width="0.4"/>
<text x="299.7" y="112.04" font-size="10.9" text-anchor="start" >20 kOe</text>
<g opacity="0.5"><line x1="270.7" y1="122.08" x2="278.8" y2="122.08" stroke="#800080" stroke-width="1.2"/><line x1="288.6" y1="122.08" x2="296.7" y2="122.08" stroke="#800080" stroke-width="1.2"/></g>
<polygon points="283.8,119.77 284.34,121.33 286,121.37 284.68,122.37 285.16,123.95 283.8,123 282.44,123.95 282.92,122.37 281.6,121.37 283.26,121.33" fill="#800080" stroke="#800080" stroke-width="0.4"/>
<text x="299.7" y="126.08" font-size="10.9" text-anchor="start" >10 kOe</text>
<g opacity="0.5"><line x1="270.7" y1="136.12" x2="278.8" y2="136.12" stroke="#008000" stroke-width="1.2"/><line x1="288.6" y1="136.12" x2="296.7" y2="136.12" stroke="#008000" stroke-width="1.2"/></g>
<polygon points="285.48,137.09 283.8,138.06 282.12,137.09 282.12,135.15 283.8,134.18 285.48,135.15" fill="#008000" stroke="#008000" stroke-width="0.4"/>
<text x="299.7" y="140.12" font-size="10.9" text-anchor="start" >5 kOe</text>
<rect x="138.6" y="18.6" width="123.00000000000003" height="96.19999999999999" fill="#fff" stroke="#000" stroke-width="1.3"/>
<defs><clipPath id="ci"><rect x="138.6" y="18.6" width="123.00000000000003" height="96.19999999999999"/></clipPath></defs>
<g clip-path="url(#ci)">
<path d="M139.4,111.22 L140.41,111.17 L141.41,111.11 L142.41,111.05 L143.42,110.97 L144.42,110.89 L145.43,110.79 L146.43,110.68 L147.44,110.56 L148.44,110.42 L149.45,110.26 L150.45,110.08 L151.46,109.88 L152.46,109.65 L153.47,109.39 L154.47,109.1 L155.48,108.77 L156.48,108.4 L157.49,107.98 L158.49,107.52 L159.5,106.99 L160.5,106.41 L161.51,105.76 L162.51,105.03 L163.52,104.23 L164.52,103.34 L165.53,102.36 L166.53,101.28 L167.54,100.09 L168.54,98.8 L169.55,97.4 L170.55,95.89 L171.56,94.27 L172.56,92.54 L173.57,90.7 L174.57,88.76 L175.58,86.73 L176.58,84.62 L177.59,82.45 L178.59,80.23 L179.6,77.97 L180.6,75.7 L181.61,73.44 L182.61,71.19 L183.62,68.99 L184.62,66.84 L185.63,64.76 L186.63,62.77 L187.64,60.87 L188.64,59.07 L189.65,57.38 L190.65,55.81 L191.66,54.34 L192.66,52.98 L193.67,51.74 L194.67,50.6 L195.68,49.55 L196.68,48.61 L197.69,47.75 L198.69,46.98 L199.7,46.29 L200.7,45.66 L201.71,45.11 L202.71,44.61 L203.72,44.16 L204.72,43.76 L205.73,43.41 L206.73,43.1 L207.74,42.82 L208.74,42.57 L209.75,42.35 L210.75,42.16 L211.76,41.99 L212.76,41.84 L213.77,41.71 L214.77,41.59 L215.78,41.48 L216.78,41.39 L217.79,41.31 L218.79,41.24 L219.8,41.18 L220.8,41.12 L221.81,41.07 L222.81,41.03 L223.82,40.99 L224.82,40.96 L225.83,40.93 L226.83,40.91 L227.84,40.88 L228.84,40.86 L229.85,40.84 L230.85,40.83 L231.86,40.82 L232.86,40.8 L233.87,40.79 L234.87,40.78 L235.88,40.78 L236.88,40.77 L237.89,40.76 L238.89,40.76 L239.9,40.75 L240.91,40.75 L241.91,40.74 L242.92,40.74 L243.92,40.74 L244.93,40.73 L245.93,40.73 L246.94,40.73 L247.94,40.73 L248.95,40.73 L249.95,40.73 L250.96,40.72 L251.96,40.72 L252.97,40.72 L253.97,40.72 L254.98,40.72 L255.98,40.72 L256.99,40.72 L257.99,40.72 L259,40.72 L260,40.72" fill="none" stroke="#008000" stroke-width="0.8" stroke-linejoin="round"/>
<path d="M139.4,111.56 L140.41,111.55 L141.41,111.54 L142.41,111.53 L143.42,111.52 L144.42,111.51 L145.43,111.5 L146.43,111.48 L147.44,111.46 L148.44,111.44 L149.45,111.41 L150.45,111.38 L151.46,111.34 L152.46,111.3 L153.47,111.25 L154.47,111.19 L155.48,111.13 L156.48,111.05 L157.49,110.96 L158.49,110.86 L159.5,110.74 L160.5,110.6 L161.51,110.43 L162.51,110.25 L163.52,110.03 L164.52,109.78 L165.53,109.49 L166.53,109.16 L167.54,108.77 L168.54,108.33 L169.55,107.83 L170.55,107.25 L171.56,106.59 L172.56,105.83 L173.57,104.98 L174.57,104.01 L175.58,102.92 L176.58,101.7 L177.59,100.34 L178.59,98.83 L179.6,97.16 L180.6,95.34 L181.61,93.37 L182.61,91.24 L183.62,88.98 L184.62,86.58 L185.63,84.08 L186.63,81.49 L187.64,78.84 L188.64,76.16 L189.65,73.48 L190.65,70.83 L191.66,68.24 L192.66,65.74 L193.67,63.34 L194.67,61.07 L195.68,58.95 L196.68,56.97 L197.69,55.15 L198.69,53.49 L199.7,51.98 L200.7,50.62 L201.71,49.39 L202.71,48.3 L203.72,47.34 L204.72,46.48 L205.73,45.73 L206.73,45.07 L207.74,44.49 L208.74,43.98 L209.75,43.54 L210.75,43.16 L211.76,42.82 L212.76,42.54 L213.77,42.29 L214.77,42.07 L215.78,41.88 L216.78,41.72 L217.79,41.58 L218.79,41.46 L219.8,41.36 L220.8,41.27 L221.81,41.19 L222.81,41.12 L223.82,41.07 L224.82,41.02 L225.83,40.98 L226.83,40.94 L227.84,40.91 L228.84,40.88 L229.85,40.86 L230.85,40.84 L231.86,40.82 L232.86,40.81 L233.87,40.79 L234.87,40.78 L235.88,40.77 L236.88,40.77 L237.89,40.76 L238.89,40.75 L239.9,40.75 L240.91,40.74 L241.91,40.74 L242.92,40.74 L243.92,40.73 L244.93,40.73 L245.93,40.73 L246.94,40.73 L247.94,40.73 L248.95,40.72 L249.95,40.72 L250.96,40.72 L251.96,40.72 L252.97,40.72 L253.97,40.72 L254.98,40.72 L255.98,40.72 L256.99,40.72 L257.99,40.72 L259,40.72 L260,40.72" fill="none" stroke="#ff0000" stroke-width="0.8" stroke-linejoin="round"/>
<path d="M139.4,111.58 L140.41,111.58 L141.41,111.58 L142.41,111.57 L143.42,111.57 L144.42,111.56 L145.43,111.56 L146.43,111.55 L147.44,111.54 L148.44,111.53 L149.45,111.52 L150.45,111.51 L151.46,111.49 L152.46,111.47 L153.47,111.45 L154.47,111.42 L155.48,111.39 L156.48,111.36 L157.49,111.32 L158.49,111.27 L159.5,111.21 L160.5,111.14 L161.51,111.06 L162.51,110.97 L163.52,110.86 L164.52,110.73 L165.53,110.58 L166.53,110.4 L167.54,110.2 L168.54,109.96 L169.55,109.68 L170.55,109.35 L171.56,108.97 L172.56,108.53 L173.57,108.03 L174.57,107.44 L175.58,106.76 L176.58,105.98 L177.59,105.08 L178.59,104.06 L179.6,102.91 L180.6,101.6 L181.61,100.13 L182.61,98.5 L183.62,96.69 L184.62,94.7 L185.63,92.54 L186.63,90.21 L187.64,87.72 L188.64,85.11 L189.65,82.38 L190.65,79.58 L191.66,76.73 L192.66,73.87 L193.67,71.05 L194.67,68.29 L195.68,65.62 L196.68,63.09 L197.69,60.69 L198.69,58.46 L199.7,56.4 L200.7,54.52 L201.71,52.82 L202.71,51.28 L203.72,49.91 L204.72,48.7 L205.73,47.62 L206.73,46.68 L207.74,45.86 L208.74,45.14 L209.75,44.52 L210.75,43.98 L211.76,43.51 L212.76,43.11 L213.77,42.76 L214.77,42.46 L215.78,42.21 L216.78,41.99 L217.79,41.8 L218.79,41.64 L219.8,41.51 L220.8,41.39 L221.81,41.29 L222.81,41.21 L223.82,41.13 L224.82,41.07 L225.83,41.02 L226.83,40.97 L227.84,40.94 L228.84,40.9 L229.85,40.88 L230.85,40.85 L231.86,40.83 L232.86,40.81 L233.87,40.8 L234.87,40.79 L235.88,40.78 L236.88,40.77 L237.89,40.76 L238.89,40.75 L239.9,40.75 L240.91,40.74 L241.91,40.74 L242.92,40.74 L243.92,40.73 L244.93,40.73 L245.93,40.73 L246.94,40.73 L247.94,40.72 L248.95,40.72 L249.95,40.72 L250.96,40.72 L251.96,40.72 L252.97,40.72 L253.97,40.72 L254.98,40.72 L255.98,40.72 L256.99,40.72 L257.99,40.72 L259,40.72 L260,40.72" fill="none" stroke="#0000ff" stroke-width="0.8" stroke-linejoin="round"/>
<path d="M139.4,111.59 L140.41,111.59 L141.41,111.59 L142.41,111.59 L143.42,111.58 L144.42,111.58 L145.43,111.58 L146.43,111.57 L147.44,111.57 L148.44,111.56 L149.45,111.55 L150.45,111.54 L151.46,111.53 L152.46,111.52 L153.47,111.51 L154.47,111.49 L155.48,111.47 L156.48,111.45 L157.49,111.42 L158.49,111.39 L159.5,111.35 L160.5,111.3 L161.51,111.25 L162.51,111.18 L163.52,111.11 L164.52,111.02 L165.53,110.92 L166.53,110.8 L167.54,110.65 L168.54,110.48 L169.55,110.28 L170.55,110.05 L171.56,109.77 L172.56,109.45 L173.57,109.08 L174.57,108.64 L175.58,108.13 L176.58,107.54 L177.59,106.85 L178.59,106.05 L179.6,105.14 L180.6,104.09 L181.61,102.9 L182.61,101.55 L183.62,100.02 L184.62,98.31 L185.63,96.42 L186.63,94.34 L187.64,92.07 L188.64,89.62 L189.65,87.02 L190.65,84.28 L191.66,81.43 L192.66,78.52 L193.67,75.57 L194.67,72.63 L195.68,69.73 L196.68,66.92 L197.69,64.24 L198.69,61.69 L199.7,59.32 L200.7,57.12 L201.71,55.12 L202.71,53.3 L203.72,51.67 L204.72,50.21 L205.73,48.92 L206.73,47.79 L207.74,46.79 L208.74,45.93 L209.75,45.18 L210.75,44.53 L211.76,43.97 L212.76,43.49 L213.77,43.08 L214.77,42.73 L215.78,42.43 L216.78,42.17 L217.79,41.95 L218.79,41.76 L219.8,41.6 L220.8,41.47 L221.81,41.35 L222.81,41.26 L223.82,41.17 L224.82,41.1 L225.83,41.05 L226.83,41 L227.84,40.95 L228.84,40.92 L229.85,40.89 L230.85,40.86 L231.86,40.84 L232.86,40.82 L233.87,40.8 L234.87,40.79 L235.88,40.78 L236.88,40.77 L237.89,40.76 L238.89,40.75 L239.9,40.75 L240.91,40.74 L241.91,40.74 L242.92,40.74 L243.92,40.73 L244.93,40.73 L245.93,40.73 L246.94,40.73 L247.94,40.72 L248.95,40.72 L249.95,40.72 L250.96,40.72 L251.96,40.72 L252.97,40.72 L253.97,40.72 L254.98,40.72 L255.98,40.72 L256.99,40.72 L257.99,40.72 L259,40.72 L260,40.72" fill="none" stroke="#2060ff" stroke-width="0.8" stroke-linejoin="round"/>
<path d="M139.4,111.6 L140.41,111.59 L141.41,111.59 L142.41,111.59 L143.42,111.59 L144.42,111.59 L145.43,111.59 L146.43,111.58 L147.44,111.58 L148.44,111.58 L149.45,111.57 L150.45,111.57 L151.46,111.56 L152.46,111.56 L153.47,111.55 L154.47,111.54 L155.48,111.53 L156.48,111.51 L157.49,111.5 L158.49,111.48 L159.5,111.46 L160.5,111.43 L161.51,111.4 L162.51,111.36 L163.52,111.32 L164.52,111.26 L165.53,111.2 L166.53,111.13 L167.54,111.04 L168.54,110.93 L169.55,110.81 L170.55,110.66 L171.56,110.49 L172.56,110.28 L173.57,110.04 L174.57,109.75 L175.58,109.42 L176.58,109.02 L177.59,108.55 L178.59,108.01 L179.6,107.38 L180.6,106.64 L181.61,105.78 L182.61,104.79 L183.62,103.65 L184.62,102.35 L185.63,100.87 L186.63,99.21 L187.64,97.34 L188.64,95.28 L189.65,93.01 L190.65,90.55 L191.66,87.92 L192.66,85.13 L193.67,82.21 L194.67,79.21 L195.68,76.16 L196.68,73.11 L197.69,70.11 L198.69,67.19 L199.7,64.4 L200.7,61.76 L201.71,59.3 L202.71,57.04 L203.72,54.97 L204.72,53.11 L205.73,51.44 L206.73,49.97 L207.74,48.67 L208.74,47.53 L209.75,46.54 L210.75,45.68 L211.76,44.94 L212.76,44.31 L213.77,43.76 L214.77,43.3 L215.78,42.9 L216.78,42.56 L217.79,42.28 L218.79,42.03 L219.8,41.83 L220.8,41.66 L221.81,41.51 L222.81,41.38 L223.82,41.28 L224.82,41.19 L225.83,41.12 L226.83,41.05 L227.84,41 L228.84,40.95 L229.85,40.92 L230.85,40.89 L231.86,40.86 L232.86,40.84 L233.87,40.82 L234.87,40.8 L235.88,40.79 L236.88,40.78 L237.89,40.77 L238.89,40.76 L239.9,40.75 L240.91,40.75 L241.91,40.74 L242.92,40.74 L243.92,40.73 L244.93,40.73 L245.93,40.73 L246.94,40.73 L247.94,40.73 L248.95,40.72 L249.95,40.72 L250.96,40.72 L251.96,40.72 L252.97,40.72 L253.97,40.72 L254.98,40.72 L255.98,40.72 L256.99,40.72 L257.99,40.72 L259,40.72 L260,40.72" fill="none" stroke="#008b8b" stroke-width="0.8" stroke-linejoin="round"/>
<path d="M139.4,111.6 L140.41,111.6 L141.41,111.6 L142.41,111.6 L143.42,111.6 L144.42,111.6 L145.43,111.6 L146.43,111.6 L147.44,111.6 L148.44,111.6 L149.45,111.6 L150.45,111.6 L151.46,111.6 L152.46,111.6 L153.47,111.6 L154.47,111.6 L155.48,111.6 L156.48,111.59 L157.49,111.59 L158.49,111.59 L159.5,111.59 L160.5,111.59 L161.51,111.59 L162.51,111.58 L163.52,111.58 L164.52,111.57 L165.53,111.57 L166.53,111.56 L167.54,111.55 L168.54,111.54 L169.55,111.53 L170.55,111.51 L171.56,111.49 L172.56,111.47 L173.57,111.44 L174.57,111.4 L175.58,111.36 L176.58,111.31 L177.59,111.24 L178.59,111.16 L179.6,111.07 L180.6,110.95 L181.61,110.81 L182.61,110.63 L183.62,110.42 L184.62,110.17 L185.63,109.86 L186.63,109.48 L187.64,109.03 L188.64,108.49 L189.65,107.83 L190.65,107.05 L191.66,106.12 L192.66,105.02 L193.67,103.73 L194.67,102.22 L195.68,100.46 L196.68,98.46 L197.69,96.18 L198.69,93.63 L199.7,90.82 L200.7,87.76 L201.71,84.5 L202.71,81.09 L203.72,77.57 L204.72,74.03 L205.73,70.54 L206.73,67.15 L207.74,63.92 L208.74,60.91 L209.75,58.15 L210.75,55.66 L211.76,53.44 L212.76,51.48 L213.77,49.78 L214.77,48.31 L215.78,47.06 L216.78,45.99 L217.79,45.1 L218.79,44.34 L219.8,43.71 L220.8,43.19 L221.81,42.75 L222.81,42.39 L223.82,42.1 L224.82,41.85 L225.83,41.65 L226.83,41.48 L227.84,41.34 L228.84,41.23 L229.85,41.14 L230.85,41.06 L231.86,41 L232.86,40.95 L233.87,40.91 L234.87,40.87 L235.88,40.84 L236.88,40.82 L237.89,40.8 L238.89,40.79 L239.9,40.77 L240.91,40.76 L241.91,40.75 L242.92,40.75 L243.92,40.74 L244.93,40.74 L245.93,40.73 L246.94,40.73 L247.94,40.73 L248.95,40.73 L249.95,40.72 L250.96,40.72 L251.96,40.72 L252.97,40.72 L253.97,40.72 L254.98,40.72 L255.98,40.72 L256.99,40.72 L257.99,40.72 L259,40.72 L260,40.72" fill="none" stroke="#a0a000" stroke-width="0.8" stroke-linejoin="round"/>
<path d="M139.4,111.6 L140.41,111.6 L141.41,111.6 L142.41,111.6 L143.42,111.6 L144.42,111.6 L145.43,111.6 L146.43,111.6 L147.44,111.6 L148.44,111.6 L149.45,111.6 L150.45,111.6 L151.46,111.6 L152.46,111.6 L153.47,111.6 L154.47,111.6 L155.48,111.6 L156.48,111.6 L157.49,111.6 L158.49,111.6 L159.5,111.6 L160.5,111.6 L161.51,111.6 L162.51,111.6 L163.52,111.6 L164.52,111.6 L165.53,111.6 L166.53,111.59 L167.54,111.59 L168.54,111.59 L169.55,111.59 L170.55,111.59 L171.56,111.58 L172.56,111.58 L173.57,111.58 L174.57,111.57 L175.58,111.56 L176.58,111.55 L177.59,111.54 L178.59,111.52 L179.6,111.5 L180.6,111.48 L181.61,111.45 L182.61,111.41 L183.62,111.36 L184.62,111.3 L185.63,111.22 L186.63,111.13 L187.64,111.01 L188.64,110.86 L189.65,110.67 L190.65,110.43 L191.66,110.14 L192.66,109.78 L193.67,109.33 L194.67,108.77 L195.68,108.09 L196.68,107.25 L197.69,106.22 L198.69,104.98 L199.7,103.48 L200.7,101.7 L201.71,99.6 L202.71,97.16 L203.72,94.38 L204.72,91.24 L205.73,87.79 L206.73,84.08 L207.74,80.17 L208.74,76.16 L209.75,72.15 L210.75,68.24 L211.76,64.52 L212.76,61.07 L213.77,57.94 L214.77,55.15 L215.78,52.71 L216.78,50.62 L217.79,48.83 L218.79,47.34 L219.8,46.09 L220.8,45.07 L221.81,44.23 L222.81,43.54 L223.82,42.99 L224.82,42.54 L225.83,42.17 L226.83,41.88 L227.84,41.65 L228.84,41.46 L229.85,41.31 L230.85,41.19 L231.86,41.09 L232.86,41.02 L233.87,40.96 L234.87,40.91 L235.88,40.87 L236.88,40.84 L237.89,40.81 L238.89,40.79 L239.9,40.78 L240.91,40.77 L241.91,40.76 L242.92,40.75 L243.92,40.74 L244.93,40.74 L245.93,40.73 L246.94,40.73 L247.94,40.73 L248.95,40.72 L249.95,40.72 L250.96,40.72 L251.96,40.72 L252.97,40.72 L253.97,40.72 L254.98,40.72 L255.98,40.72 L256.99,40.72 L257.99,40.72 L259,40.72 L260,40.72" fill="none" stroke="#000080" stroke-width="0.8" stroke-linejoin="round"/>
<path d="M139.4,111.6 L140.41,111.6 L141.41,111.6 L142.41,111.6 L143.42,111.6 L144.42,111.6 L145.43,111.6 L146.43,111.6 L147.44,111.6 L148.44,111.6 L149.45,111.6 L150.45,111.6 L151.46,111.6 L152.46,111.6 L153.47,111.6 L154.47,111.6 L155.48,111.6 L156.48,111.6 L157.49,111.6 L158.49,111.6 L159.5,111.6 L160.5,111.6 L161.51,111.6 L162.51,111.6 L163.52,111.6 L164.52,111.6 L165.53,111.6 L166.53,111.6 L167.54,111.6 L168.54,111.6 L169.55,111.6 L170.55,111.59 L171.56,111.59 L172.56,111.59 L173.57,111.59 L174.57,111.59 L175.58,111.58 L176.58,111.58 L177.59,111.57 L178.59,111.56 L179.6,111.55 L180.6,111.54 L181.61,111.52 L182.61,111.5 L183.62,111.47 L184.62,111.44 L185.63,111.4 L186.63,111.34 L187.64,111.28 L188.64,111.19 L189.65,111.08 L190.65,110.94 L191.66,110.76 L192.66,110.54 L193.67,110.26 L194.67,109.91 L195.68,109.47 L196.68,108.92 L197.69,108.24 L198.69,107.39 L199.7,106.34 L200.7,105.06 L201.71,103.5 L202.71,101.63 L203.72,99.41 L204.72,96.81 L205.73,93.83 L206.73,90.48 L207.74,86.79 L208.74,82.83 L209.75,78.69 L210.75,74.47 L211.76,70.31 L212.76,66.3 L213.77,62.55 L214.77,59.12 L215.78,56.07 L216.78,53.4 L217.79,51.1 L218.79,49.17 L219.8,47.55 L220.8,46.21 L221.81,45.12 L222.81,44.23 L223.82,43.52 L224.82,42.94 L225.83,42.48 L226.83,42.12 L227.84,41.82 L228.84,41.59 L229.85,41.41 L230.85,41.26 L231.86,41.15 L232.86,41.06 L233.87,40.98 L234.87,40.93 L235.88,40.88 L236.88,40.85 L237.89,40.82 L238.89,40.8 L239.9,40.78 L240.91,40.77 L241.91,40.76 L242.92,40.75 L243.92,40.74 L244.93,40.74 L245.93,40.73 L246.94,40.73 L247.94,40.73 L248.95,40.72 L249.95,40.72 L250.96,40.72 L251.96,40.72 L252.97,40.72 L253.97,40.72 L254.98,40.72 L255.98,40.72 L256.99,40.72 L257.99,40.72 L259,40.72 L260,40.72" fill="none" stroke="#800000" stroke-width="0.8" stroke-linejoin="round"/>
<path d="M139.4,111.6 L140.41,111.6 L141.41,111.6 L142.41,111.6 L143.42,111.6 L144.42,111.6 L145.43,111.6 L146.43,111.6 L147.44,111.6 L148.44,111.6 L149.45,111.6 L150.45,111.6 L151.46,111.6 L152.46,111.6 L153.47,111.6 L154.47,111.6 L155.48,111.6 L156.48,111.6 L157.49,111.6 L158.49,111.6 L159.5,111.6 L160.5,111.6 L161.51,111.6 L162.51,111.6 L163.52,111.6 L164.52,111.6 L165.53,111.6 L166.53,111.6 L167.54,111.6 L168.54,111.6 L169.55,111.6 L170.55,111.6 L171.56,111.59 L172.56,111.59 L173.57,111.59 L174.57,111.59 L175.58,111.59 L176.58,111.58 L177.59,111.58 L178.59,111.57 L179.6,111.57 L180.6,111.56 L181.61,111.54 L182.61,111.53 L183.62,111.51 L184.62,111.49 L185.63,111.46 L186.63,111.42 L187.64,111.37 L188.64,111.3 L189.65,111.23 L190.65,111.13 L191.66,111 L192.66,110.84 L193.67,110.64 L194.67,110.38 L195.68,110.06 L196.68,109.66 L197.69,109.16 L198.69,108.53 L199.7,107.75 L200.7,106.79 L201.71,105.6 L202.71,104.16 L203.72,102.42 L204.72,100.34 L205.73,97.9 L206.73,95.07 L207.74,91.87 L208.74,88.3 L209.75,84.44 L210.75,80.36 L211.76,76.16 L212.76,71.96 L213.77,67.88 L214.77,64.01 L215.78,60.45 L216.78,57.24 L217.79,54.42 L218.79,51.98 L219.8,49.9 L220.8,48.16 L221.81,46.72 L222.81,45.53 L223.82,44.57 L224.82,43.79 L225.83,43.16 L226.83,42.65 L227.84,42.25 L228.84,41.93 L229.85,41.68 L230.85,41.48 L231.86,41.32 L232.86,41.19 L233.87,41.09 L234.87,41.01 L235.88,40.95 L236.88,40.9 L237.89,40.86 L238.89,40.83 L239.9,40.81 L240.91,40.79 L241.91,40.77 L242.92,40.76 L243.92,40.75 L244.93,40.74 L245.93,40.74 L246.94,40.73 L247.94,40.73 L248.95,40.73 L249.95,40.72 L250.96,40.72 L251.96,40.72 L252.97,40.72 L253.97,40.72 L254.98,40.72 L255.98,40.72 L256.99,40.72 L257.99,40.72 L259,40.72 L260,40.72" fill="none" stroke="#ff1493" stroke-width="0.8" stroke-linejoin="round"/>
<path d="M139.4,111.6 L140.41,111.6 L141.41,111.6 L142.41,111.6 L143.42,111.6 L144.42,111.6 L145.43,111.6 L146.43,111.6 L147.44,111.6 L148.44,111.6 L149.45,111.6 L150.45,111.6 L151.46,111.6 L152.46,111.6 L153.47,111.6 L154.47,111.6 L155.48,111.6 L156.48,111.6 L157.49,111.6 L158.49,111.6 L159.5,111.6 L160.5,111.6 L161.51,111.6 L162.51,111.6 L163.52,111.6 L164.52,111.6 L165.53,111.6 L166.53,111.6 L167.54,111.6 L168.54,111.6 L169.55,111.6 L170.55,111.6 L171.56,111.6 L172.56,111.6 L173.57,111.6 L174.57,111.6 L175.58,111.59 L176.58,111.59 L177.59,111.59 L178.59,111.59 L179.6,111.59 L180.6,111.58 L181.61,111.58 L182.61,111.57 L183.62,111.56 L184.62,111.55 L185.63,111.54 L186.63,111.52 L187.64,111.5 L188.64,111.47 L189.65,111.43 L190.65,111.39 L191.66,111.33 L192.66,111.25 L193.67,111.15 L194.67,111.02 L195.68,110.86 L196.68,110.65 L197.69,110.39 L198.69,110.05 L199.7,109.62 L200.7,109.08 L201.71,108.39 L202.71,107.54 L203.72,106.47 L204.72,105.14 L205.73,103.52 L206.73,101.55 L207.74,99.19 L208.74,96.42 L209.75,93.23 L210.75,89.62 L211.76,85.67 L212.76,81.43 L213.77,77.04 L214.77,72.63 L215.78,68.32 L216.78,64.24 L217.79,60.48 L218.79,57.12 L219.8,54.18 L220.8,51.67 L221.81,49.54 L222.81,47.79 L223.82,46.35 L224.82,45.18 L225.83,44.24 L226.83,43.49 L227.84,42.9 L228.84,42.43 L229.85,42.06 L230.85,41.76 L231.86,41.53 L232.86,41.35 L233.87,41.21 L234.87,41.1 L235.88,41.02 L236.88,40.95 L237.89,40.9 L238.89,40.86 L239.9,40.83 L240.91,40.8 L241.91,40.78 L242.92,40.77 L243.92,40.76 L244.93,40.75 L245.93,40.74 L246.94,40.74 L247.94,40.73 L248.95,40.73 L249.95,40.73 L250.96,40.72 L251.96,40.72 L252.97,40.72 L253.97,40.72 L254.98,40.72 L255.98,40.72 L256.99,40.72 L257.99,40.72 L259,40.72 L260,40.72" fill="none" stroke="#000000" stroke-width="0.8" stroke-linejoin="round"/>
<circle cx="139.4" cy="111.22" r="1.3" fill="#008000" stroke="#008000" stroke-width="0.3"/>
<circle cx="145.23" cy="110.81" r="1.3" fill="#008000" stroke="#008000" stroke-width="0.3"/>
<circle cx="151.06" cy="109.96" r="1.3" fill="#008000" stroke="#008000" stroke-width="0.3"/>
<circle cx="156.89" cy="108.24" r="1.3" fill="#008000" stroke="#008000" stroke-width="0.3"/>
<circle cx="162.72" cy="104.88" r="1.3" fill="#008000" stroke="#008000" stroke-width="0.3"/>
<circle cx="168.55" cy="98.8" r="1.3" fill="#008000" stroke="#008000" stroke-width="0.3"/>
<circle cx="174.37" cy="89.15" r="1.3" fill="#008000" stroke="#008000" stroke-width="0.3"/>
<circle cx="180.2" cy="76.61" r="1.3" fill="#008000" stroke="#008000" stroke-width="0.3"/>
<circle cx="186.03" cy="63.95" r="1.3" fill="#008000" stroke="#008000" stroke-width="0.3"/>
<circle cx="191.86" cy="54.06" r="1.3" fill="#008000" stroke="#008000" stroke-width="0.3"/>
<circle cx="197.69" cy="47.75" r="1.3" fill="#008000" stroke="#008000" stroke-width="0.3"/>
<circle cx="203.52" cy="44.25" r="1.3" fill="#008000" stroke="#008000" stroke-width="0.3"/>
<circle cx="209.35" cy="42.44" r="1.3" fill="#008000" stroke="#008000" stroke-width="0.3"/>
<circle cx="215.18" cy="41.55" r="1.3" fill="#008000" stroke="#008000" stroke-width="0.3"/>
<circle cx="221.01" cy="41.11" r="1.3" fill="#008000" stroke="#008000" stroke-width="0.3"/>
<circle cx="226.84" cy="40.91" r="1.3" fill="#008000" stroke="#008000" stroke-width="0.3"/>
<circle cx="232.66" cy="40.81" r="1.3" fill="#008000" stroke="#008000" stroke-width="0.3"/>
<circle cx="238.49" cy="40.76" r="1.3" fill="#008000" stroke="#008000" stroke-width="0.3"/>
<circle cx="244.32" cy="40.74" r="1.3" fill="#008000" stroke="#008000" stroke-width="0.3"/>
<circle cx="250.15" cy="40.73" r="1.3" fill="#008000" stroke="#008000" stroke-width="0.3"/>
<circle cx="255.98" cy="40.72" r="1.3" fill="#008000" stroke="#008000" stroke-width="0.3"/>
<circle cx="141.41" cy="111.54" r="1.3" fill="#ff0000" stroke="#ff0000" stroke-width="0.3"/>
<circle cx="146.44" cy="111.48" r="1.3" fill="#ff0000" stroke="#ff0000" stroke-width="0.3"/>
<circle cx="151.46" cy="111.34" r="1.3" fill="#ff0000" stroke="#ff0000" stroke-width="0.3"/>
<circle cx="156.49" cy="111.05" r="1.3" fill="#ff0000" stroke="#ff0000" stroke-width="0.3"/>
<circle cx="161.51" cy="110.43" r="1.3" fill="#ff0000" stroke="#ff0000" stroke-width="0.3"/>
<circle cx="166.53" cy="109.16" r="1.3" fill="#ff0000" stroke="#ff0000" stroke-width="0.3"/>
<circle cx="171.56" cy="106.59" r="1.3" fill="#ff0000" stroke="#ff0000" stroke-width="0.3"/>
<circle cx="176.59" cy="101.7" r="1.3" fill="#ff0000" stroke="#ff0000" stroke-width="0.3"/>
<circle cx="181.61" cy="93.37" r="1.3" fill="#ff0000" stroke="#ff0000" stroke-width="0.3"/>
<circle cx="186.63" cy="81.49" r="1.3" fill="#ff0000" stroke="#ff0000" stroke-width="0.3"/>
<circle cx="191.66" cy="68.24" r="1.3" fill="#ff0000" stroke="#ff0000" stroke-width="0.3"/>
<circle cx="196.69" cy="56.97" r="1.3" fill="#ff0000" stroke="#ff0000" stroke-width="0.3"/>
<circle cx="201.71" cy="49.39" r="1.3" fill="#ff0000" stroke="#ff0000" stroke-width="0.3"/>
<circle cx="206.74" cy="45.07" r="1.3" fill="#ff0000" stroke="#ff0000" stroke-width="0.3"/>
<circle cx="211.76" cy="42.82" r="1.3" fill="#ff0000" stroke="#ff0000" stroke-width="0.3"/>
<circle cx="216.79" cy="41.72" r="1.3" fill="#ff0000" stroke="#ff0000" stroke-width="0.3"/>
<circle cx="221.81" cy="41.19" r="1.3" fill="#ff0000" stroke="#ff0000" stroke-width="0.3"/>
<circle cx="226.84" cy="40.94" r="1.3" fill="#ff0000" stroke="#ff0000" stroke-width="0.3"/>
<circle cx="231.86" cy="40.82" r="1.3" fill="#ff0000" stroke="#ff0000" stroke-width="0.3"/>
<circle cx="236.88" cy="40.77" r="1.3" fill="#ff0000" stroke="#ff0000" stroke-width="0.3"/>
<circle cx="241.91" cy="40.74" r="1.3" fill="#ff0000" stroke="#ff0000" stroke-width="0.3"/>
<circle cx="246.94" cy="40.73" r="1.3" fill="#ff0000" stroke="#ff0000" stroke-width="0.3"/>
<circle cx="251.96" cy="40.72" r="1.3" fill="#ff0000" stroke="#ff0000" stroke-width="0.3"/>
<circle cx="256.99" cy="40.72" r="1.3" fill="#ff0000" stroke="#ff0000" stroke-width="0.3"/>
<rect x="139.1" y="110.28" width="2.6" height="2.6" fill="#0000ff" stroke="#0000ff" stroke-width="0.3"/>
<rect x="144.13" y="110.26" width="2.6" height="2.6" fill="#0000ff" stroke="#0000ff" stroke-width="0.3"/>
<rect x="149.16" y="110.21" width="2.6" height="2.6" fill="#0000ff" stroke="#0000ff" stroke-width="0.3"/>
<rect x="154.18" y="110.09" width="2.6" height="2.6" fill="#0000ff" stroke="#0000ff" stroke-width="0.3"/>
<rect x="159.2" y="109.84" width="2.6" height="2.6" fill="#0000ff" stroke="#0000ff" stroke-width="0.3"/>
<rect x="164.23" y="109.28" width="2.6" height="2.6" fill="#0000ff" stroke="#0000ff" stroke-width="0.3"/>
<rect x="169.25" y="108.05" width="2.6" height="2.6" fill="#0000ff" stroke="#0000ff" stroke-width="0.3"/>
<rect x="174.28" y="105.46" width="2.6" height="2.6" fill="#0000ff" stroke="#0000ff" stroke-width="0.3"/>
<rect x="179.31" y="100.3" width="2.6" height="2.6" fill="#0000ff" stroke="#0000ff" stroke-width="0.3"/>
<rect x="184.33" y="91.24" width="2.6" height="2.6" fill="#0000ff" stroke="#0000ff" stroke-width="0.3"/>
<rect x="189.35" y="78.28" width="2.6" height="2.6" fill="#0000ff" stroke="#0000ff" stroke-width="0.3"/>
<rect x="194.38" y="64.32" width="2.6" height="2.6" fill="#0000ff" stroke="#0000ff" stroke-width="0.3"/>
<rect x="199.41" y="53.22" width="2.6" height="2.6" fill="#0000ff" stroke="#0000ff" stroke-width="0.3"/>
<rect x="204.43" y="46.32" width="2.6" height="2.6" fill="#0000ff" stroke="#0000ff" stroke-width="0.3"/>
<rect x="209.45" y="42.68" width="2.6" height="2.6" fill="#0000ff" stroke="#0000ff" stroke-width="0.3"/>
<rect x="214.48" y="40.91" width="2.6" height="2.6" fill="#0000ff" stroke="#0000ff" stroke-width="0.3"/>
<rect x="219.5" y="40.09" width="2.6" height="2.6" fill="#0000ff" stroke="#0000ff" stroke-width="0.3"/>
<rect x="224.53" y="39.72" width="2.6" height="2.6" fill="#0000ff" stroke="#0000ff" stroke-width="0.3"/>
<rect x="229.56" y="39.55" width="2.6" height="2.6" fill="#0000ff" stroke="#0000ff" stroke-width="0.3"/>
<rect x="234.58" y="39.48" width="2.6" height="2.6" fill="#0000ff" stroke="#0000ff" stroke-width="0.3"/>
<rect x="239.61" y="39.44" width="2.6" height="2.6" fill="#0000ff" stroke="#0000ff" stroke-width="0.3"/>
<rect x="244.63" y="39.43" width="2.6" height="2.6" fill="#0000ff" stroke="#0000ff" stroke-width="0.3"/>
<rect x="249.66" y="39.42" width="2.6" height="2.6" fill="#0000ff" stroke="#0000ff" stroke-width="0.3"/>
<rect x="254.68" y="39.42" width="2.6" height="2.6" fill="#0000ff" stroke="#0000ff" stroke-width="0.3"/>
<polygon points="142.42,110.03 143.98,111.59 142.42,113.15 140.86,111.59" fill="#2060ff" stroke="#2060ff" stroke-width="0.3"/>
<polygon points="147.44,110.01 149,111.57 147.44,113.13 145.88,111.57" fill="#2060ff" stroke="#2060ff" stroke-width="0.3"/>
<polygon points="152.47,109.96 154.03,111.52 152.47,113.08 150.91,111.52" fill="#2060ff" stroke="#2060ff" stroke-width="0.3"/>
<polygon points="157.49,109.86 159.05,111.42 157.49,112.98 155.93,111.42" fill="#2060ff" stroke="#2060ff" stroke-width="0.3"/>
<polygon points="162.52,109.62 164.08,111.18 162.52,112.74 160.96,111.18" fill="#2060ff" stroke="#2060ff" stroke-width="0.3"/>
<polygon points="167.54,109.09 169.1,110.65 167.54,112.21 165.98,110.65" fill="#2060ff" stroke="#2060ff" stroke-width="0.3"/>
<polygon points="172.56,107.89 174.12,109.45 172.56,111.01 171,109.45" fill="#2060ff" stroke="#2060ff" stroke-width="0.3"/>
<polygon points="177.59,105.29 179.15,106.85 177.59,108.41 176.03,106.85" fill="#2060ff" stroke="#2060ff" stroke-width="0.3"/>
<polygon points="182.62,99.99 184.18,101.55 182.62,103.11 181.06,101.55" fill="#2060ff" stroke="#2060ff" stroke-width="0.3"/>
<polygon points="187.64,90.51 189.2,92.07 187.64,93.63 186.08,92.07" fill="#2060ff" stroke="#2060ff" stroke-width="0.3"/>
<polygon points="192.67,76.96 194.23,78.52 192.67,80.08 191.11,78.52" fill="#2060ff" stroke="#2060ff" stroke-width="0.3"/>
<polygon points="197.69,62.68 199.25,64.24 197.69,65.8 196.13,64.24" fill="#2060ff" stroke="#2060ff" stroke-width="0.3"/>
<polygon points="202.72,51.74 204.28,53.3 202.72,54.86 201.16,53.3" fill="#2060ff" stroke="#2060ff" stroke-width="0.3"/>
<polygon points="207.74,45.23 209.3,46.79 207.74,48.35 206.18,46.79" fill="#2060ff" stroke="#2060ff" stroke-width="0.3"/>
<polygon points="212.77,41.93 214.33,43.49 212.77,45.05 211.21,43.49" fill="#2060ff" stroke="#2060ff" stroke-width="0.3"/>
<polygon points="217.79,40.39 219.35,41.95 217.79,43.51 216.23,41.95" fill="#2060ff" stroke="#2060ff" stroke-width="0.3"/>
<polygon points="222.81,39.7 224.38,41.26 222.81,42.82 221.25,41.26" fill="#2060ff" stroke="#2060ff" stroke-width="0.3"/>
<polygon points="227.84,39.39 229.4,40.95 227.84,42.51 226.28,40.95" fill="#2060ff" stroke="#2060ff" stroke-width="0.3"/>
<polygon points="232.87,39.26 234.43,40.82 232.87,42.38 231.31,40.82" fill="#2060ff" stroke="#2060ff" stroke-width="0.3"/>
<polygon points="237.89,39.2 239.45,40.76 237.89,42.32 236.33,40.76" fill="#2060ff" stroke="#2060ff" stroke-width="0.3"/>
<polygon points="242.92,39.18 244.48,40.74 242.92,42.3 241.36,40.74" fill="#2060ff" stroke="#2060ff" stroke-width="0.3"/>
<polygon points="247.94,39.16 249.5,40.72 247.94,42.28 246.38,40.72" fill="#2060ff" stroke="#2060ff" stroke-width="0.3"/>
<polygon points="252.97,39.16 254.53,40.72 252.97,42.28 251.41,40.72" fill="#2060ff" stroke="#2060ff" stroke-width="0.3"/>
<polygon points="257.99,39.16 259.55,40.72 257.99,42.28 256.43,40.72" fill="#2060ff" stroke="#2060ff" stroke-width="0.3"/>
<polygon points="143.42,113.09 144.92,110.47 141.93,110.47" fill="#008b8b" stroke="#008b8b" stroke-width="0.3"/>
<polygon points="148.45,113.07 149.94,110.46 146.95,110.46" fill="#008b8b" stroke="#008b8b" stroke-width="0.3"/>
<polygon points="153.47,113.04 154.97,110.43 151.97,110.43" fill="#008b8b" stroke="#008b8b" stroke-width="0.3"/>
<polygon points="158.5,112.97 159.99,110.36 157,110.36" fill="#008b8b" stroke="#008b8b" stroke-width="0.3"/>
<polygon points="163.52,112.81 165.02,110.2 162.03,110.2" fill="#008b8b" stroke="#008b8b" stroke-width="0.3"/>
<polygon points="168.55,112.43 170.04,109.81 167.05,109.81" fill="#008b8b" stroke="#008b8b" stroke-width="0.3"/>
<polygon points="173.57,111.53 175.07,108.92 172.08,108.92" fill="#008b8b" stroke="#008b8b" stroke-width="0.3"/>
<polygon points="178.6,109.51 180.09,106.89 177.1,106.89" fill="#008b8b" stroke="#008b8b" stroke-width="0.3"/>
<polygon points="183.62,105.15 185.12,102.53 182.12,102.53" fill="#008b8b" stroke="#008b8b" stroke-width="0.3"/>
<polygon points="188.65,96.77 190.14,94.16 187.15,94.16" fill="#008b8b" stroke="#008b8b" stroke-width="0.3"/>
<polygon points="193.67,83.7 195.17,81.09 192.18,81.09" fill="#008b8b" stroke="#008b8b" stroke-width="0.3"/>
<polygon points="198.7,68.69 200.19,66.07 197.2,66.07" fill="#008b8b" stroke="#008b8b" stroke-width="0.3"/>
<polygon points="203.72,56.47 205.22,53.85 202.23,53.85" fill="#008b8b" stroke="#008b8b" stroke-width="0.3"/>
<polygon points="208.75,49.02 210.24,46.41 207.25,46.41" fill="#008b8b" stroke="#008b8b" stroke-width="0.3"/>
<polygon points="213.77,45.26 215.27,42.64 212.28,42.64" fill="#008b8b" stroke="#008b8b" stroke-width="0.3"/>
<polygon points="218.8,43.53 220.29,40.91 217.3,40.91" fill="#008b8b" stroke="#008b8b" stroke-width="0.3"/>
<polygon points="223.82,42.77 225.31,40.16 222.32,40.16" fill="#008b8b" stroke="#008b8b" stroke-width="0.3"/>
<polygon points="228.84,42.45 230.34,39.83 227.35,39.83" fill="#008b8b" stroke="#008b8b" stroke-width="0.3"/>
<polygon points="233.87,42.31 235.37,39.7 232.38,39.7" fill="#008b8b" stroke="#008b8b" stroke-width="0.3"/>
<polygon points="238.89,42.25 240.39,39.64 237.4,39.64" fill="#008b8b" stroke="#008b8b" stroke-width="0.3"/>
<polygon points="243.92,42.23 245.42,39.61 242.43,39.61" fill="#008b8b" stroke="#008b8b" stroke-width="0.3"/>
<polygon points="248.94,42.22 250.44,39.6 247.45,39.6" fill="#008b8b" stroke="#008b8b" stroke-width="0.3"/>
<polygon points="253.97,42.21 255.47,39.6 252.47,39.6" fill="#008b8b" stroke="#008b8b" stroke-width="0.3"/>
<polygon points="139.4,113.09 140.9,110.48 137.91,110.48" fill="#a0a000" stroke="#a0a000" stroke-width="0.3"/>
<polygon points="143.82,113.09 145.32,110.48 142.33,110.48" fill="#a0a000" stroke="#a0a000" stroke-width="0.3"/>
<polygon points="148.24,113.09 149.74,110.48 146.75,110.48" fill="#a0a000" stroke="#a0a000" stroke-width="0.3"/>
<polygon points="152.67,113.09 154.16,110.48 151.17,110.48" fill="#a0a000" stroke="#a0a000" stroke-width="0.3"/>
<polygon points="157.09,113.09 158.58,110.47 155.59,110.47" fill="#a0a000" stroke="#a0a000" stroke-width="0.3"/>
<polygon points="161.51,113.08 163,110.46 160.01,110.46" fill="#a0a000" stroke="#a0a000" stroke-width="0.3"/>
<polygon points="165.93,113.06 167.43,110.44 164.44,110.44" fill="#a0a000" stroke="#a0a000" stroke-width="0.3"/>
<polygon points="170.35,113.01 171.85,110.39 168.86,110.39" fill="#a0a000" stroke="#a0a000" stroke-width="0.3"/>
<polygon points="174.78,112.89 176.27,110.27 173.28,110.27" fill="#a0a000" stroke="#a0a000" stroke-width="0.3"/>
<polygon points="179.2,112.6 180.69,109.99 177.7,109.99" fill="#a0a000" stroke="#a0a000" stroke-width="0.3"/>
<polygon points="183.62,111.92 185.11,109.3 182.12,109.3" fill="#a0a000" stroke="#a0a000" stroke-width="0.3"/>
<polygon points="188.04,110.32 189.54,107.7 186.55,107.7" fill="#a0a000" stroke="#a0a000" stroke-width="0.3"/>
<polygon points="192.46,106.75 193.96,104.14 190.97,104.14" fill="#a0a000" stroke="#a0a000" stroke-width="0.3"/>
<polygon points="196.89,99.52 198.38,96.9 195.39,96.9" fill="#a0a000" stroke="#a0a000" stroke-width="0.3"/>
<polygon points="201.31,87.33 202.8,84.71 199.81,84.71" fill="#a0a000" stroke="#a0a000" stroke-width="0.3"/>
<polygon points="205.73,72.03 207.22,69.41 204.23,69.41" fill="#a0a000" stroke="#a0a000" stroke-width="0.3"/>
<polygon points="210.15,58.62 211.65,56 208.66,56" fill="#a0a000" stroke="#a0a000" stroke-width="0.3"/>
<polygon points="214.57,50.08 216.07,47.47 213.08,47.47" fill="#a0a000" stroke="#a0a000" stroke-width="0.3"/>
<polygon points="219,45.7 220.49,43.09 217.5,43.09" fill="#a0a000" stroke="#a0a000" stroke-width="0.3"/>
<polygon points="223.42,43.7 224.91,41.09 221.92,41.09" fill="#a0a000" stroke="#a0a000" stroke-width="0.3"/>
<polygon points="227.84,42.84 229.33,40.22 226.34,40.22" fill="#a0a000" stroke="#a0a000" stroke-width="0.3"/>
<polygon points="232.26,42.47 233.76,39.86 230.77,39.86" fill="#a0a000" stroke="#a0a000" stroke-width="0.3"/>
<polygon points="236.68,42.32 238.18,39.7 235.19,39.7" fill="#a0a000" stroke="#a0a000" stroke-width="0.3"/>
<polygon points="241.11,42.26 242.6,39.64 239.61,39.64" fill="#a0a000" stroke="#a0a000" stroke-width="0.3"/>
<polygon points="245.53,42.23 247.02,39.61 244.03,39.61" fill="#a0a000" stroke="#a0a000" stroke-width="0.3"/>
<polygon points="249.95,42.22 251.45,39.6 248.46,39.6" fill="#a0a000" stroke="#a0a000" stroke-width="0.3"/>
<polygon points="254.37,42.21 255.87,39.6 252.88,39.6" fill="#a0a000" stroke="#a0a000" stroke-width="0.3"/>
<polygon points="141.41,110.04 142.97,111.6 141.41,113.16 139.85,111.6" fill="#000080" stroke="#000080" stroke-width="0.3"/>
<polygon points="145.03,110.04 146.59,111.6 145.03,113.16 143.47,111.6" fill="#000080" stroke="#000080" stroke-width="0.3"/>
<polygon points="148.65,110.04 150.21,111.6 148.65,113.16 147.09,111.6" fill="#000080" stroke="#000080" stroke-width="0.3"/>
<polygon points="152.26,110.04 153.82,111.6 152.26,113.16 150.7,111.6" fill="#000080" stroke="#000080" stroke-width="0.3"/>
<polygon points="155.88,110.04 157.44,111.6 155.88,113.16 154.32,111.6" fill="#000080" stroke="#000080" stroke-width="0.3"/>
<polygon points="159.5,110.04 161.06,111.6 159.5,113.16 157.94,111.6" fill="#000080" stroke="#000080" stroke-width="0.3"/>
<polygon points="163.12,110.04 164.68,111.6 163.12,113.16 161.56,111.6" fill="#000080" stroke="#000080" stroke-width="0.3"/>
<polygon points="166.74,110.03 168.3,111.59 166.74,113.15 165.18,111.59" fill="#000080" stroke="#000080" stroke-width="0.3"/>
<polygon points="170.35,110.03 171.91,111.59 170.35,113.15 168.79,111.59" fill="#000080" stroke="#000080" stroke-width="0.3"/>
<polygon points="173.97,110.01 175.53,111.57 173.97,113.13 172.41,111.57" fill="#000080" stroke="#000080" stroke-width="0.3"/>
<polygon points="177.59,109.98 179.15,111.54 177.59,113.1 176.03,111.54" fill="#000080" stroke="#000080" stroke-width="0.3"/>
<polygon points="181.21,109.9 182.77,111.46 181.21,113.02 179.65,111.46" fill="#000080" stroke="#000080" stroke-width="0.3"/>
<polygon points="184.83,109.72 186.39,111.28 184.83,112.84 183.27,111.28" fill="#000080" stroke="#000080" stroke-width="0.3"/>
<polygon points="188.44,109.33 190,110.89 188.44,112.45 186.88,110.89" fill="#000080" stroke="#000080" stroke-width="0.3"/>
<polygon points="192.06,108.45 193.62,110.01 192.06,111.57 190.5,110.01" fill="#000080" stroke="#000080" stroke-width="0.3"/>
<polygon points="195.68,106.53 197.24,108.09 195.68,109.65 194.12,108.09" fill="#000080" stroke="#000080" stroke-width="0.3"/>
<polygon points="199.3,102.55 200.86,104.11 199.3,105.67 197.74,104.11" fill="#000080" stroke="#000080" stroke-width="0.3"/>
<polygon points="202.92,95.07 204.48,96.63 202.92,98.19 201.36,96.63" fill="#000080" stroke="#000080" stroke-width="0.3"/>
<polygon points="206.53,83.28 208.09,84.84 206.53,86.4 204.97,84.84" fill="#000080" stroke="#000080" stroke-width="0.3"/>
<polygon points="210.15,69.01 211.71,70.57 210.15,72.13 208.59,70.57" fill="#000080" stroke="#000080" stroke-width="0.3"/>
<polygon points="213.77,56.38 215.33,57.94 213.77,59.5 212.21,57.94" fill="#000080" stroke="#000080" stroke-width="0.3"/>
<polygon points="217.39,47.95 218.95,49.51 217.39,51.07 215.83,49.51" fill="#000080" stroke="#000080" stroke-width="0.3"/>
<polygon points="221.01,43.33 222.57,44.89 221.01,46.45 219.45,44.89" fill="#000080" stroke="#000080" stroke-width="0.3"/>
<polygon points="224.62,41.06 226.18,42.62 224.62,44.18 223.06,42.62" fill="#000080" stroke="#000080" stroke-width="0.3"/>
<polygon points="228.24,40.01 229.8,41.57 228.24,43.13 226.68,41.57" fill="#000080" stroke="#000080" stroke-width="0.3"/>
<polygon points="231.86,39.53 233.42,41.09 231.86,42.65 230.3,41.09" fill="#000080" stroke="#000080" stroke-width="0.3"/>
<polygon points="235.48,39.32 237.04,40.88 235.48,42.44 233.92,40.88" fill="#000080" stroke="#000080" stroke-width="0.3"/>
<polygon points="239.1,39.23 240.66,40.79 239.1,42.35 237.54,40.79" fill="#000080" stroke="#000080" stroke-width="0.3"/>
<polygon points="242.71,39.19 244.27,40.75 242.71,42.31 241.15,40.75" fill="#000080" stroke="#000080" stroke-width="0.3"/>
<polygon points="246.33,39.17 247.89,40.73 246.33,42.29 244.77,40.73" fill="#000080" stroke="#000080" stroke-width="0.3"/>
<polygon points="249.95,39.16 251.51,40.72 249.95,42.28 248.39,40.72" fill="#000080" stroke="#000080" stroke-width="0.3"/>
<polygon points="253.57,39.16 255.13,40.72 253.57,42.28 252.01,40.72" fill="#000080" stroke="#000080" stroke-width="0.3"/>
<polygon points="257.19,39.16 258.75,40.72 257.19,42.28 255.63,40.72" fill="#000080" stroke="#000080" stroke-width="0.3"/>
<circle cx="143.42" cy="111.6" r="1.3" fill="#800000" stroke="#800000" stroke-width="0.3"/>
<circle cx="147.04" cy="111.6" r="1.3" fill="#800000" stroke="#800000" stroke-width="0.3"/>
<circle cx="150.66" cy="111.6" r="1.3" fill="#800000" stroke="#800000" stroke-width="0.3"/>
<circle cx="154.27" cy="111.6" r="1.3" fill="#800000" stroke="#800000" stroke-width="0.3"/>
<circle cx="157.89" cy="111.6" r="1.3" fill="#800000" stroke="#800000" stroke-width="0.3"/>
<circle cx="161.51" cy="111.6" r="1.3" fill="#800000" stroke="#800000" stroke-width="0.3"/>
<circle cx="165.13" cy="111.6" r="1.3" fill="#800000" stroke="#800000" stroke-width="0.3"/>
<circle cx="168.75" cy="111.6" r="1.3" fill="#800000" stroke="#800000" stroke-width="0.3"/>
<circle cx="172.36" cy="111.59" r="1.3" fill="#800000" stroke="#800000" stroke-width="0.3"/>
<circle cx="175.98" cy="111.58" r="1.3" fill="#800000" stroke="#800000" stroke-width="0.3"/>
<circle cx="179.6" cy="111.55" r="1.3" fill="#800000" stroke="#800000" stroke-width="0.3"/>
<circle cx="183.22" cy="111.49" r="1.3" fill="#800000" stroke="#800000" stroke-width="0.3"/>
<circle cx="186.84" cy="111.33" r="1.3" fill="#800000" stroke="#800000" stroke-width="0.3"/>
<circle cx="190.45" cy="110.97" r="1.3" fill="#800000" stroke="#800000" stroke-width="0.3"/>
<circle cx="194.07" cy="110.13" r="1.3" fill="#800000" stroke="#800000" stroke-width="0.3"/>
<circle cx="197.69" cy="108.24" r="1.3" fill="#800000" stroke="#800000" stroke-width="0.3"/>
<circle cx="201.31" cy="104.16" r="1.3" fill="#800000" stroke="#800000" stroke-width="0.3"/>
<circle cx="204.93" cy="96.25" r="1.3" fill="#800000" stroke="#800000" stroke-width="0.3"/>
<circle cx="208.54" cy="83.64" r="1.3" fill="#800000" stroke="#800000" stroke-width="0.3"/>
<circle cx="212.16" cy="68.68" r="1.3" fill="#800000" stroke="#800000" stroke-width="0.3"/>
<circle cx="215.78" cy="56.07" r="1.3" fill="#800000" stroke="#800000" stroke-width="0.3"/>
<circle cx="219.4" cy="48.16" r="1.3" fill="#800000" stroke="#800000" stroke-width="0.3"/>
<circle cx="223.02" cy="44.08" r="1.3" fill="#800000" stroke="#800000" stroke-width="0.3"/>
<circle cx="226.63" cy="42.18" r="1.3" fill="#800000" stroke="#800000" stroke-width="0.3"/>
<circle cx="230.25" cy="41.35" r="1.3" fill="#800000" stroke="#800000" stroke-width="0.3"/>
<circle cx="233.87" cy="40.98" r="1.3" fill="#800000" stroke="#800000" stroke-width="0.3"/>
<circle cx="237.49" cy="40.83" r="1.3" fill="#800000" stroke="#800000" stroke-width="0.3"/>
<circle cx="241.11" cy="40.76" r="1.3" fill="#800000" stroke="#800000" stroke-width="0.3"/>
<circle cx="244.72" cy="40.74" r="1.3" fill="#800000" stroke="#800000" stroke-width="0.3"/>
<circle cx="248.34" cy="40.72" r="1.3" fill="#800000" stroke="#800000" stroke-width="0.3"/>
<circle cx="251.96" cy="40.72" r="1.3" fill="#800000" stroke="#800000" stroke-width="0.3"/>
<circle cx="255.58" cy="40.72" r="1.3" fill="#800000" stroke="#800000" stroke-width="0.3"/>
<circle cx="140.41" cy="111.6" r="1.3" fill="#ff1493" stroke="#ff1493" stroke-width="0.3"/>
<circle cx="143.42" cy="111.6" r="1.3" fill="#ff1493" stroke="#ff1493" stroke-width="0.3"/>
<circle cx="146.44" cy="111.6" r="1.3" fill="#ff1493" stroke="#ff1493" stroke-width="0.3"/>
<circle cx="149.45" cy="111.6" r="1.3" fill="#ff1493" stroke="#ff1493" stroke-width="0.3"/>
<circle cx="152.47" cy="111.6" r="1.3" fill="#ff1493" stroke="#ff1493" stroke-width="0.3"/>
<circle cx="155.48" cy="111.6" r="1.3" fill="#ff1493" stroke="#ff1493" stroke-width="0.3"/>
<circle cx="158.5" cy="111.6" r="1.3" fill="#ff1493" stroke="#ff1493" stroke-width="0.3"/>
<circle cx="161.51" cy="111.6" r="1.3" fill="#ff1493" stroke="#ff1493" stroke-width="0.3"/>
<circle cx="164.53" cy="111.6" r="1.3" fill="#ff1493" stroke="#ff1493" stroke-width="0.3"/>
<circle cx="167.54" cy="111.6" r="1.3" fill="#ff1493" stroke="#ff1493" stroke-width="0.3"/>
<circle cx="170.56" cy="111.6" r="1.3" fill="#ff1493" stroke="#ff1493" stroke-width="0.3"/>
<circle cx="173.57" cy="111.59" r="1.3" fill="#ff1493" stroke="#ff1493" stroke-width="0.3"/>
<circle cx="176.59" cy="111.58" r="1.3" fill="#ff1493" stroke="#ff1493" stroke-width="0.3"/>
<circle cx="179.6" cy="111.57" r="1.3" fill="#ff1493" stroke="#ff1493" stroke-width="0.3"/>
<circle cx="182.62" cy="111.53" r="1.3" fill="#ff1493" stroke="#ff1493" stroke-width="0.3"/>
<circle cx="185.63" cy="111.46" r="1.3" fill="#ff1493" stroke="#ff1493" stroke-width="0.3"/>
<circle cx="188.65" cy="111.3" r="1.3" fill="#ff1493" stroke="#ff1493" stroke-width="0.3"/>
<circle cx="191.66" cy="111" r="1.3" fill="#ff1493" stroke="#ff1493" stroke-width="0.3"/>
<circle cx="194.68" cy="110.38" r="1.3" fill="#ff1493" stroke="#ff1493" stroke-width="0.3"/>
<circle cx="197.69" cy="109.16" r="1.3" fill="#ff1493" stroke="#ff1493" stroke-width="0.3"/>
<circle cx="200.71" cy="106.79" r="1.3" fill="#ff1493" stroke="#ff1493" stroke-width="0.3"/>
<circle cx="203.72" cy="102.42" r="1.3" fill="#ff1493" stroke="#ff1493" stroke-width="0.3"/>
<circle cx="206.74" cy="95.07" r="1.3" fill="#ff1493" stroke="#ff1493" stroke-width="0.3"/>
<circle cx="209.75" cy="84.44" r="1.3" fill="#ff1493" stroke="#ff1493" stroke-width="0.3"/>
<circle cx="212.77" cy="71.96" r="1.3" fill="#ff1493" stroke="#ff1493" stroke-width="0.3"/>
<circle cx="215.78" cy="60.45" r="1.3" fill="#ff1493" stroke="#ff1493" stroke-width="0.3"/>
<circle cx="218.8" cy="51.98" r="1.3" fill="#ff1493" stroke="#ff1493" stroke-width="0.3"/>
<circle cx="221.81" cy="46.72" r="1.3" fill="#ff1493" stroke="#ff1493" stroke-width="0.3"/>
<circle cx="224.83" cy="43.79" r="1.3" fill="#ff1493" stroke="#ff1493" stroke-width="0.3"/>
<circle cx="227.84" cy="42.25" r="1.3" fill="#ff1493" stroke="#ff1493" stroke-width="0.3"/>
<circle cx="230.86" cy="41.48" r="1.3" fill="#ff1493" stroke="#ff1493" stroke-width="0.3"/>
<circle cx="233.87" cy="41.09" r="1.3" fill="#ff1493" stroke="#ff1493" stroke-width="0.3"/>
<circle cx="236.89" cy="40.9" r="1.3" fill="#ff1493" stroke="#ff1493" stroke-width="0.3"/>
<circle cx="239.9" cy="40.81" r="1.3" fill="#ff1493" stroke="#ff1493" stroke-width="0.3"/>
<circle cx="242.92" cy="40.76" r="1.3" fill="#ff1493" stroke="#ff1493" stroke-width="0.3"/>
<circle cx="245.93" cy="40.74" r="1.3" fill="#ff1493" stroke="#ff1493" stroke-width="0.3"/>
<circle cx="248.95" cy="40.73" r="1.3" fill="#ff1493" stroke="#ff1493" stroke-width="0.3"/>
<circle cx="251.96" cy="40.72" r="1.3" fill="#ff1493" stroke="#ff1493" stroke-width="0.3"/>
<circle cx="254.98" cy="40.72" r="1.3" fill="#ff1493" stroke="#ff1493" stroke-width="0.3"/>
<circle cx="141.81" cy="111.6" r="1.3" fill="#000000" stroke="#000000" stroke-width="0.3"/>
<circle cx="144.63" cy="111.6" r="1.3" fill="#000000" stroke="#000000" stroke-width="0.3"/>
<circle cx="147.44" cy="111.6" r="1.3" fill="#000000" stroke="#000000" stroke-width="0.3"/>
<circle cx="150.25" cy="111.6" r="1.3" fill="#000000" stroke="#000000" stroke-width="0.3"/>
<circle cx="153.07" cy="111.6" r="1.3" fill="#000000" stroke="#000000" stroke-width="0.3"/>
<circle cx="155.88" cy="111.6" r="1.3" fill="#000000" stroke="#000000" stroke-width="0.3"/>
<circle cx="158.7" cy="111.6" r="1.3" fill="#000000" stroke="#000000" stroke-width="0.3"/>
<circle cx="161.51" cy="111.6" r="1.3" fill="#000000" stroke="#000000" stroke-width="0.3"/>
<circle cx="164.32" cy="111.6" r="1.3" fill="#000000" stroke="#000000" stroke-width="0.3"/>
<circle cx="167.14" cy="111.6" r="1.3" fill="#000000" stroke="#000000" stroke-width="0.3"/>
<circle cx="169.95" cy="111.6" r="1.3" fill="#000000" stroke="#000000" stroke-width="0.3"/>
<circle cx="172.77" cy="111.6" r="1.3" fill="#000000" stroke="#000000" stroke-width="0.3"/>
<circle cx="175.58" cy="111.59" r="1.3" fill="#000000" stroke="#000000" stroke-width="0.3"/>
<circle cx="178.39" cy="111.59" r="1.3" fill="#000000" stroke="#000000" stroke-width="0.3"/>
<circle cx="181.21" cy="111.58" r="1.3" fill="#000000" stroke="#000000" stroke-width="0.3"/>
<circle cx="184.02" cy="111.56" r="1.3" fill="#000000" stroke="#000000" stroke-width="0.3"/>
<circle cx="186.84" cy="111.52" r="1.3" fill="#000000" stroke="#000000" stroke-width="0.3"/>
<circle cx="189.65" cy="111.43" r="1.3" fill="#000000" stroke="#000000" stroke-width="0.3"/>
<circle cx="192.46" cy="111.27" r="1.3" fill="#000000" stroke="#000000" stroke-width="0.3"/>
<circle cx="195.28" cy="110.93" r="1.3" fill="#000000" stroke="#000000" stroke-width="0.3"/>
<circle cx="198.09" cy="110.26" r="1.3" fill="#000000" stroke="#000000" stroke-width="0.3"/>
<circle cx="200.91" cy="108.95" r="1.3" fill="#000000" stroke="#000000" stroke-width="0.3"/>
<circle cx="203.72" cy="106.47" r="1.3" fill="#000000" stroke="#000000" stroke-width="0.3"/>
<circle cx="206.53" cy="101.97" r="1.3" fill="#000000" stroke="#000000" stroke-width="0.3"/>
<circle cx="209.35" cy="94.55" r="1.3" fill="#000000" stroke="#000000" stroke-width="0.3"/>
<circle cx="212.16" cy="84" r="1.3" fill="#000000" stroke="#000000" stroke-width="0.3"/>
<circle cx="214.98" cy="71.75" r="1.3" fill="#000000" stroke="#000000" stroke-width="0.3"/>
<circle cx="217.79" cy="60.48" r="1.3" fill="#000000" stroke="#000000" stroke-width="0.3"/>
<circle cx="220.6" cy="52.14" r="1.3" fill="#000000" stroke="#000000" stroke-width="0.3"/>
<circle cx="223.42" cy="46.89" r="1.3" fill="#000000" stroke="#000000" stroke-width="0.3"/>
<circle cx="226.23" cy="43.92" r="1.3" fill="#000000" stroke="#000000" stroke-width="0.3"/>
<circle cx="229.05" cy="42.34" r="1.3" fill="#000000" stroke="#000000" stroke-width="0.3"/>
<circle cx="231.86" cy="41.53" r="1.3" fill="#000000" stroke="#000000" stroke-width="0.3"/>
<circle cx="234.67" cy="41.12" r="1.3" fill="#000000" stroke="#000000" stroke-width="0.3"/>
<circle cx="237.49" cy="40.92" r="1.3" fill="#000000" stroke="#000000" stroke-width="0.3"/>
<circle cx="240.3" cy="40.82" r="1.3" fill="#000000" stroke="#000000" stroke-width="0.3"/>
<circle cx="243.12" cy="40.77" r="1.3" fill="#000000" stroke="#000000" stroke-width="0.3"/>
<circle cx="245.93" cy="40.74" r="1.3" fill="#000000" stroke="#000000" stroke-width="0.3"/>
<circle cx="248.74" cy="40.73" r="1.3" fill="#000000" stroke="#000000" stroke-width="0.3"/>
<circle cx="251.56" cy="40.72" r="1.3" fill="#000000" stroke="#000000" stroke-width="0.3"/>
<circle cx="254.37" cy="40.72" r="1.3" fill="#000000" stroke="#000000" stroke-width="0.3"/>
<circle cx="257.19" cy="40.72" r="1.3" fill="#000000" stroke="#000000" stroke-width="0.3"/>
</g>
<line x1="138.6" y1="111.6" x2="141.4" y2="111.6" stroke="#000" stroke-width="0.9"/>
<text x="136.4" y="114.2" font-size="7.5" text-anchor="end" >0.00</text>
<line x1="138.6" y1="107.64" x2="140.3" y2="107.64" stroke="#000" stroke-width="0.9"/>
<line x1="138.6" y1="103.68" x2="140.3" y2="103.68" stroke="#000" stroke-width="0.9"/>
<line x1="138.6" y1="99.72" x2="140.3" y2="99.72" stroke="#000" stroke-width="0.9"/>
<line x1="138.6" y1="95.76" x2="140.3" y2="95.76" stroke="#000" stroke-width="0.9"/>
<line x1="138.6" y1="91.8" x2="141.4" y2="91.8" stroke="#000" stroke-width="0.9"/>
<text x="136.4" y="94.4" font-size="7.5" text-anchor="end" >0.75</text>
<line x1="138.6" y1="87.84" x2="140.3" y2="87.84" stroke="#000" stroke-width="0.9"/>
<line x1="138.6" y1="83.88" x2="140.3" y2="83.88" stroke="#000" stroke-width="0.9"/>
<line x1="138.6" y1="79.92" x2="140.3" y2="79.92" stroke="#000" stroke-width="0.9"/>
<line x1="138.6" y1="75.96" x2="140.3" y2="75.96" stroke="#000" stroke-width="0.9"/>
<line x1="138.6" y1="72" x2="141.4" y2="72" stroke="#000" stroke-width="0.9"/>
<text x="136.4" y="74.6" font-size="7.5" text-anchor="end" >1.50</text>
<line x1="138.6" y1="68.04" x2="140.3" y2="68.04" stroke="#000" stroke-width="0.9"/>
<line x1="138.6" y1="64.08" x2="140.3" y2="64.08" stroke="#000" stroke-width="0.9"/>
<line x1="138.6" y1="60.12" x2="140.3" y2="60.12" stroke="#000" stroke-width="0.9"/>
<line x1="138.6" y1="56.16" x2="140.3" y2="56.16" stroke="#000" stroke-width="0.9"/>
<line x1="138.6" y1="52.2" x2="141.4" y2="52.2" stroke="#000" stroke-width="0.9"/>
<text x="136.4" y="54.8" font-size="7.5" text-anchor="end" >2.25</text>
<line x1="138.6" y1="48.24" x2="140.3" y2="48.24" stroke="#000" stroke-width="0.9"/>
<line x1="138.6" y1="44.28" x2="140.3" y2="44.28" stroke="#000" stroke-width="0.9"/>
<line x1="138.6" y1="40.32" x2="140.3" y2="40.32" stroke="#000" stroke-width="0.9"/>
<line x1="138.6" y1="36.36" x2="140.3" y2="36.36" stroke="#000" stroke-width="0.9"/>
<line x1="138.6" y1="32.4" x2="141.4" y2="32.4" stroke="#000" stroke-width="0.9"/>
<text x="136.4" y="35" font-size="7.5" text-anchor="end" >3.00</text>
<line x1="138.6" y1="28.44" x2="140.3" y2="28.44" stroke="#000" stroke-width="0.9"/>
<line x1="138.6" y1="24.48" x2="140.3" y2="24.48" stroke="#000" stroke-width="0.9"/>
<line x1="138.6" y1="20.52" x2="140.3" y2="20.52" stroke="#000" stroke-width="0.9"/>
<line x1="139.4" y1="114.8" x2="139.4" y2="112" stroke="#000" stroke-width="0.9"/>
<text x="139.4" y="123.4" font-size="8" text-anchor="middle" >4</text>
<line x1="142.75" y1="114.8" x2="142.75" y2="113" stroke="#000" stroke-width="0.9"/>
<line x1="146.1" y1="114.8" x2="146.1" y2="113" stroke="#000" stroke-width="0.9"/>
<line x1="149.45" y1="114.8" x2="149.45" y2="113" stroke="#000" stroke-width="0.9"/>
<line x1="152.8" y1="114.8" x2="152.8" y2="113" stroke="#000" stroke-width="0.9"/>
<line x1="156.15" y1="114.8" x2="156.15" y2="113" stroke="#000" stroke-width="0.9"/>
<line x1="159.5" y1="114.8" x2="159.5" y2="112" stroke="#000" stroke-width="0.9"/>
<text x="159.5" y="123.4" font-size="8" text-anchor="middle" >5</text>
<line x1="162.85" y1="114.8" x2="162.85" y2="113" stroke="#000" stroke-width="0.9"/>
<line x1="166.2" y1="114.8" x2="166.2" y2="113" stroke="#000" stroke-width="0.9"/>
<line x1="169.55" y1="114.8" x2="169.55" y2="113" stroke="#000" stroke-width="0.9"/>
<line x1="172.9" y1="114.8" x2="172.9" y2="113" stroke="#000" stroke-width="0.9"/>
<line x1="176.25" y1="114.8" x2="176.25" y2="113" stroke="#000" stroke-width="0.9"/>
<line x1="179.6" y1="114.8" x2="179.6" y2="112" stroke="#000" stroke-width="0.9"/>
<text x="179.6" y="123.4" font-size="8" text-anchor="middle" >6</text>
<line x1="182.95" y1="114.8" x2="182.95" y2="113" stroke="#000" stroke-width="0.9"/>
<line x1="186.3" y1="114.8" x2="186.3" y2="113" stroke="#000" stroke-width="0.9"/>
<line x1="189.65" y1="114.8" x2="189.65" y2="113" stroke="#000" stroke-width="0.9"/>
<line x1="193" y1="114.8" x2="193" y2="113" stroke="#000" stroke-width="0.9"/>
<line x1="196.35" y1="114.8" x2="196.35" y2="113" stroke="#000" stroke-width="0.9"/>
<line x1="199.7" y1="114.8" x2="199.7" y2="112" stroke="#000" stroke-width="0.9"/>
<text x="199.7" y="123.4" font-size="8" text-anchor="middle" >7</text>
<line x1="203.05" y1="114.8" x2="203.05" y2="113" stroke="#000" stroke-width="0.9"/>
<line x1="206.4" y1="114.8" x2="206.4" y2="113" stroke="#000" stroke-width="0.9"/>
<line x1="209.75" y1="114.8" x2="209.75" y2="113" stroke="#000" stroke-width="0.9"/>
<line x1="213.1" y1="114.8" x2="213.1" y2="113" stroke="#000" stroke-width="0.9"/>
<line x1="216.45" y1="114.8" x2="216.45" y2="113" stroke="#000" stroke-width="0.9"/>
<line x1="219.8" y1="114.8" x2="219.8" y2="112" stroke="#000" stroke-width="0.9"/>
<text x="219.8" y="123.4" font-size="8" text-anchor="middle" >8</text>
<line x1="223.15" y1="114.8" x2="223.15" y2="113" stroke="#000" stroke-width="0.9"/>
<line x1="226.5" y1="114.8" x2="226.5" y2="113" stroke="#000" stroke-width="0.9"/>
<line x1="229.85" y1="114.8" x2="229.85" y2="113" stroke="#000" stroke-width="0.9"/>
<line x1="233.2" y1="114.8" x2="233.2" y2="113" stroke="#000" stroke-width="0.9"/>
<line x1="236.55" y1="114.8" x2="236.55" y2="113" stroke="#000" stroke-width="0.9"/>
<line x1="239.9" y1="114.8" x2="239.9" y2="112" stroke="#000" stroke-width="0.9"/>
<text x="239.9" y="123.4" font-size="8" text-anchor="middle" >9</text>
<line x1="243.25" y1="114.8" x2="243.25" y2="113" stroke="#000" stroke-width="0.9"/>
<line x1="246.6" y1="114.8" x2="246.6" y2="113" stroke="#000" stroke-width="0.9"/>
<line x1="249.95" y1="114.8" x2="249.95" y2="113" stroke="#000" stroke-width="0.9"/>
<line x1="253.3" y1="114.8" x2="253.3" y2="113" stroke="#000" stroke-width="0.9"/>
<line x1="256.65" y1="114.8" x2="256.65" y2="113" stroke="#000" stroke-width="0.9"/>
<line x1="260" y1="114.8" x2="260" y2="112" stroke="#000" stroke-width="0.9"/>
<text x="260" y="123.4" font-size="8" text-anchor="middle" >10</text>
<text transform="translate(118.6,81.5) rotate(-90)" font-size="11"><tspan font-style="italic">ρ</tspan>/<tspan font-style="italic">ρ</tspan><tspan dy="3" font-size="7" font-style="italic">300</tspan></text>
<text x="189.6" y="133.9" font-size="11"><tspan font-style="italic">T</tspan> (K)</text>
<text x="143" y="28.6" font-size="9">FeTe<tspan dy="2.5" font-size="6">0.90</tspan><tspan dy="-2.5">S</tspan><tspan dy="2.5" font-size="6">0.10</tspan></text>
<text x="145" y="42.3" font-size="9" text-anchor="start" >Single Crystal</text>
<text x="153.4" y="71.5" font-size="7.2" text-anchor="start" >12 Tesla</text>
<text x="222.2" y="92.3" font-size="7.2" text-anchor="start" >0 Tesla</text>
<line x1="220.2" y1="89.8" x2="179.5" y2="62.6" stroke="#0000ff" stroke-width="1.5"/>
<polygon points="175.9,60.2 183.5,61.8 180.2,66.7" fill="#0000ff"/>
<defs><clipPath id="cb"><rect x="53.1" y="289.0" width="291.5" height="213.8"/></clipPath></defs>
<g clip-path="url(#cb)">
<path d="M54.75,386.99 L58.5,386.99 L62.37,386.99 L66.36,386.99 L70.48,387 L74.73,387 L79.12,387.01 L83.67,387.02 L88.36,387.05 L93.23,387.11 L98.26,387.23 L103.48,387.49 L108.89,388.04 L114.5,389.2 L120.33,391.46 L126.38,395.35 L132.68,401.05 L139.23,408.25 L146.06,416.45 L153.17,425.35 L160.59,434.76 L168.34,444.65 L176.44,455 L184.92,465.84 L193.8,477.19 L203.1,489.09 L212.87,501.59 L223.14,514.73" fill="none" stroke="#555555" stroke-width="0.6" stroke-linejoin="round"/>
<path d="M54.8,386.99 L58.55,386.99 L62.42,386.99 L66.41,386.99 L70.53,386.99 L74.78,387 L79.17,387 L83.72,387.01 L88.42,387.03 L93.28,387.06 L98.32,387.13 L103.54,387.28 L108.95,387.62 L114.57,388.33 L120.4,389.82 L126.45,392.62 L132.75,397.13 L139.31,403.28 L146.14,410.61 L153.25,418.72 L160.68,427.39 L168.43,436.52 L176.54,446.09 L185.02,456.11 L193.9,466.61 L203.21,477.62 L212.99,489.17 L223.26,501.32 L234.07,514.11" fill="none" stroke="#0000ff" stroke-width="0.6" stroke-linejoin="round"/>
<path d="M53.88,386.99 L57.6,386.99 L61.44,386.99 L65.4,386.99 L69.49,386.99 L73.71,386.99 L78.07,387 L82.57,387 L87.23,387.01 L92.06,387.03 L97.05,387.07 L102.22,387.15 L107.58,387.34 L113.15,387.74 L118.92,388.61 L124.92,390.4 L131.16,393.63 L137.65,398.57 L144.41,404.95 L151.46,412.32 L158.8,420.34 L166.47,428.84 L174.49,437.78 L182.87,447.14 L191.65,456.95 L200.85,467.23 L210.51,478.03 L220.66,489.37 L231.33,501.3 L242.57,513.87" fill="none" stroke="#ff00ff" stroke-width="0.6" stroke-linejoin="round"/>
<path d="M54.72,386.99 L59.23,386.99 L63.92,386.99 L68.78,386.99 L73.83,386.99 L79.08,386.99 L84.55,387 L90.24,387.01 L96.18,387.03 L102.37,387.08 L108.84,387.21 L115.6,387.57 L122.67,388.48 L130.08,390.67 L137.84,395 L146,401.58 L154.56,409.73 L163.58,418.82 L173.09,428.57 L183.11,438.91 L193.71,449.86 L204.93,461.44 L216.83,473.72" fill="none" stroke="#333399" stroke-width="0.6" stroke-linejoin="round"/>
<path d="M53.58,386.99 L58.05,386.99 L62.68,386.99 L67.5,386.99 L72.5,386.99 L77.7,386.99 L83.11,386.99 L88.74,387 L94.61,387 L100.74,387.02 L107.13,387.05 L113.81,387.14 L120.8,387.4 L128.12,388.1 L135.79,389.88 L143.84,393.61 L152.3,399.51 L161.2,406.94 L170.57,415.26 L180.46,424.2 L190.9,433.69 L201.95,443.74 L213.67,454.39" fill="none" stroke="#ff3399" stroke-width="0.6" stroke-linejoin="round"/>
<path d="M53.1,386.99 L58.06,386.99 L63.22,386.99 L68.61,386.99 L74.22,386.99 L80.09,386.99 L86.23,386.99 L92.64,386.99 L99.37,387 L106.42,387 L113.83,387.03 L121.61,387.11 L129.81,387.35 L138.45,388.16 L147.57,390.46 L157.21,395.27 L167.41,402.29 L178.24,410.53 L189.74,419.52 L201.98,429.13 L215.04,439.4 L229.01,450.37 L243.96,462.13 L260.03,474.77 L277.33,488.37 L296.02,503.06" fill="none" stroke="#3333cc" stroke-width="0.6" stroke-linejoin="round"/>
<path d="M52.52,386.99 L57.45,386.99 L62.59,386.99 L67.95,386.99 L73.54,386.99 L79.38,386.99 L85.48,386.99 L91.86,386.99 L98.55,386.99 L105.56,386.99 L112.92,387 L120.66,387.01 L128.81,387.04 L137.39,387.17 L146.45,387.62 L156.03,389.11 L166.16,392.8 L176.91,398.8 L188.33,406.13 L200.48,414.2 L213.44,422.85 L227.28,432.12 L242.12,442.04 L258.04,452.69 L275.19,464.16 L293.7,476.54 L313.75,489.95" fill="none" stroke="#800080" stroke-width="0.6" stroke-linejoin="round"/>
<path d="M54.01,386.99 L59.01,386.99 L64.21,386.99 L69.64,386.99 L75.3,386.99 L81.22,386.99 L87.4,386.99 L93.88,386.99 L100.66,386.99 L107.78,386.99 L115.25,386.99 L123.11,386.99 L131.39,387 L140.12,387.02 L149.33,387.09 L159.07,387.38 L169.39,388.48 L180.34,391.59 L191.97,397 L204.36,403.69 L217.58,411.05 L231.72,418.96 L246.88,427.46 L263.16,436.58 L280.71,446.42" fill="none" stroke="#ff8000" stroke-width="0.6" stroke-linejoin="round"/>
<path d="M52.55,386.99 L57.49,386.99 L62.63,386.99 L67.99,386.99 L73.58,386.99 L79.41,386.99 L85.52,386.99 L91.9,386.99 L98.59,386.99 L105.61,386.99 L112.97,386.99 L120.72,386.99 L128.86,386.99 L137.45,386.99 L146.51,387 L156.09,387.02 L166.23,387.09 L176.98,387.44 L188.4,388.85 L200.56,392.55 L213.53,398.18 L227.38,404.7 L242.22,411.79 L258.15,419.41 L275.31,427.61 L293.83,436.47" fill="none" stroke="#808000" stroke-width="0.6" stroke-linejoin="round"/>
<circle cx="54.75" cy="386.99" r="1.8" fill="#000000" stroke="#000000" stroke-width="0.3"/>
<circle cx="58.5" cy="386.99" r="1.8" fill="#000000" stroke="#000000" stroke-width="0.3"/>
<circle cx="62.37" cy="386.99" r="1.8" fill="#000000" stroke="#000000" stroke-width="0.3"/>
<circle cx="66.36" cy="386.99" r="1.8" fill="#000000" stroke="#000000" stroke-width="0.3"/>
<circle cx="70.48" cy="387" r="1.8" fill="#000000" stroke="#000000" stroke-width="0.3"/>
<circle cx="74.73" cy="387" r="1.8" fill="#000000" stroke="#000000" stroke-width="0.3"/>
<circle cx="79.12" cy="387.01" r="1.8" fill="#000000" stroke="#000000" stroke-width="0.3"/>
<circle cx="83.67" cy="387.02" r="1.8" fill="#000000" stroke="#000000" stroke-width="0.3"/>
<circle cx="88.36" cy="387.05" r="1.8" fill="#000000" stroke="#000000" stroke-width="0.3"/>
<circle cx="93.23" cy="387.11" r="1.8" fill="#000000" stroke="#000000" stroke-width="0.3"/>
<circle cx="98.26" cy="387.23" r="1.8" fill="#000000" stroke="#000000" stroke-width="0.3"/>
<circle cx="103.48" cy="387.49" r="1.8" fill="#000000" stroke="#000000" stroke-width="0.3"/>
<circle cx="108.89" cy="388.04" r="1.8" fill="#000000" stroke="#000000" stroke-width="0.3"/>
<circle cx="114.5" cy="389.2" r="1.8" fill="#000000" stroke="#000000" stroke-width="0.3"/>
<circle cx="120.33" cy="391.46" r="1.8" fill="#000000" stroke="#000000" stroke-width="0.3"/>
<circle cx="126.38" cy="395.35" r="1.8" fill="#000000" stroke="#000000" stroke-width="0.3"/>
<circle cx="132.68" cy="401.05" r="1.8" fill="#000000" stroke="#000000" stroke-width="0.3"/>
<circle cx="139.23" cy="408.25" r="1.8" fill="#000000" stroke="#000000" stroke-width="0.3"/>
<circle cx="146.06" cy="416.45" r="1.8" fill="#000000" stroke="#000000" stroke-width="0.3"/>
<circle cx="153.17" cy="425.35" r="1.8" fill="#000000" stroke="#000000" stroke-width="0.3"/>
<circle cx="160.59" cy="434.76" r="1.8" fill="#000000" stroke="#000000" stroke-width="0.3"/>
<circle cx="168.34" cy="444.65" r="1.8" fill="#000000" stroke="#000000" stroke-width="0.3"/>
<circle cx="176.44" cy="455" r="1.8" fill="#000000" stroke="#000000" stroke-width="0.3"/>
<circle cx="184.92" cy="465.84" r="1.8" fill="#000000" stroke="#000000" stroke-width="0.3"/>
<circle cx="193.8" cy="477.19" r="1.8" fill="#000000" stroke="#000000" stroke-width="0.3"/>
<circle cx="203.1" cy="489.09" r="1.8" fill="#000000" stroke="#000000" stroke-width="0.3"/>
<circle cx="212.87" cy="501.59" r="1.8" fill="#000000" stroke="#000000" stroke-width="0.3"/>
<circle cx="223.14" cy="514.73" r="1.8" fill="#000000" stroke="#000000" stroke-width="0.3"/>
<rect x="53" y="385.19" width="3.6" height="3.6" fill="#0000ff" stroke="#0000ff" stroke-width="0.3"/>
<rect x="56.75" y="385.19" width="3.6" height="3.6" fill="#0000ff" stroke="#0000ff" stroke-width="0.3"/>
<rect x="60.62" y="385.19" width="3.6" height="3.6" fill="#0000ff" stroke="#0000ff" stroke-width="0.3"/>
<rect x="64.61" y="385.19" width="3.6" height="3.6" fill="#0000ff" stroke="#0000ff" stroke-width="0.3"/>
<rect x="68.73" y="385.19" width="3.6" height="3.6" fill="#0000ff" stroke="#0000ff" stroke-width="0.3"/>
<rect x="72.98" y="385.2" width="3.6" height="3.6" fill="#0000ff" stroke="#0000ff" stroke-width="0.3"/>
<rect x="77.37" y="385.2" width="3.6" height="3.6" fill="#0000ff" stroke="#0000ff" stroke-width="0.3"/>
<rect x="81.92" y="385.21" width="3.6" height="3.6" fill="#0000ff" stroke="#0000ff" stroke-width="0.3"/>
<rect x="86.62" y="385.23" width="3.6" height="3.6" fill="#0000ff" stroke="#0000ff" stroke-width="0.3"/>
<rect x="91.48" y="385.26" width="3.6" height="3.6" fill="#0000ff" stroke="#0000ff" stroke-width="0.3"/>
<rect x="96.52" y="385.33" width="3.6" height="3.6" fill="#0000ff" stroke="#0000ff" stroke-width="0.3"/>
<rect x="101.74" y="385.48" width="3.6" height="3.6" fill="#0000ff" stroke="#0000ff" stroke-width="0.3"/>
<rect x="107.15" y="385.82" width="3.6" height="3.6" fill="#0000ff" stroke="#0000ff" stroke-width="0.3"/>
<rect x="112.77" y="386.53" width="3.6" height="3.6" fill="#0000ff" stroke="#0000ff" stroke-width="0.3"/>
<rect x="118.6" y="388.02" width="3.6" height="3.6" fill="#0000ff" stroke="#0000ff" stroke-width="0.3"/>
<rect x="124.65" y="390.82" width="3.6" height="3.6" fill="#0000ff" stroke="#0000ff" stroke-width="0.3"/>
<rect x="130.95" y="395.33" width="3.6" height="3.6" fill="#0000ff" stroke="#0000ff" stroke-width="0.3"/>
<rect x="137.51" y="401.48" width="3.6" height="3.6" fill="#0000ff" stroke="#0000ff" stroke-width="0.3"/>
<rect x="144.34" y="408.81" width="3.6" height="3.6" fill="#0000ff" stroke="#0000ff" stroke-width="0.3"/>
<rect x="151.45" y="416.92" width="3.6" height="3.6" fill="#0000ff" stroke="#0000ff" stroke-width="0.3"/>
<rect x="158.88" y="425.59" width="3.6" height="3.6" fill="#0000ff" stroke="#0000ff" stroke-width="0.3"/>
<rect x="166.63" y="434.72" width="3.6" height="3.6" fill="#0000ff" stroke="#0000ff" stroke-width="0.3"/>
<rect x="174.74" y="444.29" width="3.6" height="3.6" fill="#0000ff" stroke="#0000ff" stroke-width="0.3"/>
<rect x="183.22" y="454.31" width="3.6" height="3.6" fill="#0000ff" stroke="#0000ff" stroke-width="0.3"/>
<rect x="192.1" y="464.81" width="3.6" height="3.6" fill="#0000ff" stroke="#0000ff" stroke-width="0.3"/>
<rect x="201.41" y="475.82" width="3.6" height="3.6" fill="#0000ff" stroke="#0000ff" stroke-width="0.3"/>
<rect x="211.19" y="487.37" width="3.6" height="3.6" fill="#0000ff" stroke="#0000ff" stroke-width="0.3"/>
<rect x="221.46" y="499.52" width="3.6" height="3.6" fill="#0000ff" stroke="#0000ff" stroke-width="0.3"/>
<rect x="232.27" y="512.31" width="3.6" height="3.6" fill="#0000ff" stroke="#0000ff" stroke-width="0.3"/>
<polygon points="53.88,384.92 55.95,388.54 51.81,388.54" fill="#ff00ff" stroke="#ff00ff" stroke-width="0.3"/>
<polygon points="57.6,384.92 59.67,388.54 55.53,388.54" fill="#ff00ff" stroke="#ff00ff" stroke-width="0.3"/>
<polygon points="61.44,384.92 63.51,388.54 59.37,388.54" fill="#ff00ff" stroke="#ff00ff" stroke-width="0.3"/>
<polygon points="65.4,384.92 67.47,388.54 63.33,388.54" fill="#ff00ff" stroke="#ff00ff" stroke-width="0.3"/>
<polygon points="69.49,384.92 71.56,388.55 67.42,388.55" fill="#ff00ff" stroke="#ff00ff" stroke-width="0.3"/>
<polygon points="73.71,384.92 75.78,388.55 71.64,388.55" fill="#ff00ff" stroke="#ff00ff" stroke-width="0.3"/>
<polygon points="78.07,384.93 80.14,388.55 76,388.55" fill="#ff00ff" stroke="#ff00ff" stroke-width="0.3"/>
<polygon points="82.57,384.93 84.64,388.55 80.5,388.55" fill="#ff00ff" stroke="#ff00ff" stroke-width="0.3"/>
<polygon points="87.23,384.94 89.3,388.56 85.16,388.56" fill="#ff00ff" stroke="#ff00ff" stroke-width="0.3"/>
<polygon points="92.06,384.96 94.13,388.58 89.99,388.58" fill="#ff00ff" stroke="#ff00ff" stroke-width="0.3"/>
<polygon points="97.05,385 99.12,388.62 94.98,388.62" fill="#ff00ff" stroke="#ff00ff" stroke-width="0.3"/>
<polygon points="102.22,385.08 104.29,388.7 100.15,388.7" fill="#ff00ff" stroke="#ff00ff" stroke-width="0.3"/>
<polygon points="107.58,385.27 109.65,388.89 105.51,388.89" fill="#ff00ff" stroke="#ff00ff" stroke-width="0.3"/>
<polygon points="113.15,385.67 115.22,389.29 111.08,389.29" fill="#ff00ff" stroke="#ff00ff" stroke-width="0.3"/>
<polygon points="118.92,386.54 120.99,390.16 116.85,390.16" fill="#ff00ff" stroke="#ff00ff" stroke-width="0.3"/>
<polygon points="124.92,388.33 126.99,391.95 122.85,391.95" fill="#ff00ff" stroke="#ff00ff" stroke-width="0.3"/>
<polygon points="131.16,391.56 133.23,395.18 129.09,395.18" fill="#ff00ff" stroke="#ff00ff" stroke-width="0.3"/>
<polygon points="137.65,396.5 139.72,400.12 135.58,400.12" fill="#ff00ff" stroke="#ff00ff" stroke-width="0.3"/>
<polygon points="144.41,402.88 146.48,406.51 142.34,406.51" fill="#ff00ff" stroke="#ff00ff" stroke-width="0.3"/>
<polygon points="151.46,410.25 153.53,413.88 149.39,413.88" fill="#ff00ff" stroke="#ff00ff" stroke-width="0.3"/>
<polygon points="158.8,418.27 160.87,421.89 156.73,421.89" fill="#ff00ff" stroke="#ff00ff" stroke-width="0.3"/>
<polygon points="166.47,426.77 168.54,430.39 164.4,430.39" fill="#ff00ff" stroke="#ff00ff" stroke-width="0.3"/>
<polygon points="174.49,435.71 176.56,439.33 172.42,439.33" fill="#ff00ff" stroke="#ff00ff" stroke-width="0.3"/>
<polygon points="182.87,445.07 184.94,448.69 180.8,448.69" fill="#ff00ff" stroke="#ff00ff" stroke-width="0.3"/>
<polygon points="191.65,454.88 193.72,458.5 189.58,458.5" fill="#ff00ff" stroke="#ff00ff" stroke-width="0.3"/>
<polygon points="200.85,465.16 202.92,468.79 198.78,468.79" fill="#ff00ff" stroke="#ff00ff" stroke-width="0.3"/>
<polygon points="210.51,475.96 212.58,479.58 208.44,479.58" fill="#ff00ff" stroke="#ff00ff" stroke-width="0.3"/>
<polygon points="220.66,487.3 222.73,490.92 218.59,490.92" fill="#ff00ff" stroke="#ff00ff" stroke-width="0.3"/>
<polygon points="231.33,499.23 233.4,502.86 229.26,502.86" fill="#ff00ff" stroke="#ff00ff" stroke-width="0.3"/>
<polygon points="242.57,511.8 244.64,515.42 240.5,515.42" fill="#ff00ff" stroke="#ff00ff" stroke-width="0.3"/>
<polygon points="54.72,385.01 56.6,386.38 55.88,388.59 53.56,388.59 52.84,386.38" fill="#000080" stroke="#000080" stroke-width="0.3"/>
<polygon points="59.23,385.01 61.12,386.38 60.4,388.59 58.07,388.59 57.35,386.38" fill="#000080" stroke="#000080" stroke-width="0.3"/>
<polygon points="63.92,385.01 65.8,386.38 65.08,388.59 62.75,388.59 62.03,386.38" fill="#000080" stroke="#000080" stroke-width="0.3"/>
<polygon points="68.78,385.01 70.66,386.38 69.94,388.59 67.61,388.59 66.9,386.38" fill="#000080" stroke="#000080" stroke-width="0.3"/>
<polygon points="73.83,385.01 75.71,386.38 74.99,388.59 72.67,388.59 71.95,386.38" fill="#000080" stroke="#000080" stroke-width="0.3"/>
<polygon points="79.08,385.01 80.97,386.38 80.25,388.6 77.92,388.6 77.2,386.38" fill="#000080" stroke="#000080" stroke-width="0.3"/>
<polygon points="84.55,385.02 86.43,386.39 85.71,388.6 83.39,388.6 82.67,386.39" fill="#000080" stroke="#000080" stroke-width="0.3"/>
<polygon points="90.24,385.03 92.13,386.4 91.41,388.61 89.08,388.61 88.36,386.4" fill="#000080" stroke="#000080" stroke-width="0.3"/>
<polygon points="96.18,385.05 98.06,386.42 97.34,388.63 95.02,388.63 94.3,386.42" fill="#000080" stroke="#000080" stroke-width="0.3"/>
<polygon points="102.37,385.1 104.25,386.47 103.53,388.68 101.21,388.68 100.49,386.47" fill="#000080" stroke="#000080" stroke-width="0.3"/>
<polygon points="108.84,385.23 110.72,386.6 110,388.82 107.67,388.82 106.95,386.6" fill="#000080" stroke="#000080" stroke-width="0.3"/>
<polygon points="115.6,385.59 117.48,386.95 116.76,389.17 114.43,389.17 113.71,386.95" fill="#000080" stroke="#000080" stroke-width="0.3"/>
<polygon points="122.67,386.5 124.55,387.87 123.83,390.08 121.5,390.08 120.78,387.87" fill="#000080" stroke="#000080" stroke-width="0.3"/>
<polygon points="130.08,388.69 131.96,390.06 131.24,392.28 128.91,392.28 128.19,390.06" fill="#000080" stroke="#000080" stroke-width="0.3"/>
<polygon points="137.84,393.02 139.72,394.39 139.01,396.6 136.68,396.6 135.96,394.39" fill="#000080" stroke="#000080" stroke-width="0.3"/>
<polygon points="146,399.6 147.88,400.97 147.16,403.18 144.83,403.18 144.11,400.97" fill="#000080" stroke="#000080" stroke-width="0.3"/>
<polygon points="154.56,407.75 156.45,409.12 155.73,411.33 153.4,411.33 152.68,409.12" fill="#000080" stroke="#000080" stroke-width="0.3"/>
<polygon points="163.58,416.84 165.47,418.21 164.75,420.43 162.42,420.43 161.7,418.21" fill="#000080" stroke="#000080" stroke-width="0.3"/>
<polygon points="173.09,426.59 174.97,427.96 174.25,430.18 171.92,430.18 171.2,427.96" fill="#000080" stroke="#000080" stroke-width="0.3"/>
<polygon points="183.11,436.93 185,438.3 184.28,440.52 181.95,440.52 181.23,438.3" fill="#000080" stroke="#000080" stroke-width="0.3"/>
<polygon points="193.71,447.88 195.6,449.24 194.88,451.46 192.55,451.46 191.83,449.24" fill="#000080" stroke="#000080" stroke-width="0.3"/>
<polygon points="204.93,459.46 206.81,460.83 206.1,463.04 203.77,463.04 203.05,460.83" fill="#000080" stroke="#000080" stroke-width="0.3"/>
<polygon points="216.83,471.74 218.71,473.11 217.99,475.33 215.66,475.33 214.94,473.11" fill="#000080" stroke="#000080" stroke-width="0.3"/>
<circle cx="53.58" cy="386.99" r="1.8" fill="#ff1493" stroke="#ff1493" stroke-width="0.3"/>
<circle cx="58.05" cy="386.99" r="1.8" fill="#ff1493" stroke="#ff1493" stroke-width="0.3"/>
<circle cx="62.68" cy="386.99" r="1.8" fill="#ff1493" stroke="#ff1493" stroke-width="0.3"/>
<circle cx="67.5" cy="386.99" r="1.8" fill="#ff1493" stroke="#ff1493" stroke-width="0.3"/>
<circle cx="72.5" cy="386.99" r="1.8" fill="#ff1493" stroke="#ff1493" stroke-width="0.3"/>
<circle cx="77.7" cy="386.99" r="1.8" fill="#ff1493" stroke="#ff1493" stroke-width="0.3"/>
<circle cx="83.11" cy="386.99" r="1.8" fill="#ff1493" stroke="#ff1493" stroke-width="0.3"/>
<circle cx="88.74" cy="387" r="1.8" fill="#ff1493" stroke="#ff1493" stroke-width="0.3"/>
<circle cx="94.61" cy="387" r="1.8" fill="#ff1493" stroke="#ff1493" stroke-width="0.3"/>
<circle cx="100.74" cy="387.02" r="1.8" fill="#ff1493" stroke="#ff1493" stroke-width="0.3"/>
<circle cx="107.13" cy="387.05" r="1.8" fill="#ff1493" stroke="#ff1493" stroke-width="0.3"/>
<circle cx="113.81" cy="387.14" r="1.8" fill="#ff1493" stroke="#ff1493" stroke-width="0.3"/>
<circle cx="120.8" cy="387.4" r="1.8" fill="#ff1493" stroke="#ff1493" stroke-width="0.3"/>
<circle cx="128.12" cy="388.1" r="1.8" fill="#ff1493" stroke="#ff1493" stroke-width="0.3"/>
<circle cx="135.79" cy="389.88" r="1.8" fill="#ff1493" stroke="#ff1493" stroke-width="0.3"/>
<circle cx="143.84" cy="393.61" r="1.8" fill="#ff1493" stroke="#ff1493" stroke-width="0.3"/>
<circle cx="152.3" cy="399.51" r="1.8" fill="#ff1493" stroke="#ff1493" stroke-width="0.3"/>
<circle cx="161.2" cy="406.94" r="1.8" fill="#ff1493" stroke="#ff1493" stroke-width="0.3"/>
<circle cx="170.57" cy="415.26" r="1.8" fill="#ff1493" stroke="#ff1493" stroke-width="0.3"/>
<circle cx="180.46" cy="424.2" r="1.8" fill="#ff1493" stroke="#ff1493" stroke-width="0.3"/>
<circle cx="190.9" cy="433.69" r="1.8" fill="#ff1493" stroke="#ff1493" stroke-width="0.3"/>
<circle cx="201.95" cy="443.74" r="1.8" fill="#ff1493" stroke="#ff1493" stroke-width="0.3"/>
<circle cx="213.67" cy="454.39" r="1.8" fill="#ff1493" stroke="#ff1493" stroke-width="0.3"/>
<polygon points="53.1,389.06 55.17,385.44 51.03,385.44" fill="#000099" stroke="#000099" stroke-width="0.3"/>
<polygon points="58.06,389.06 60.13,385.44 55.99,385.44" fill="#000099" stroke="#000099" stroke-width="0.3"/>
<polygon points="63.22,389.06 65.29,385.44 61.15,385.44" fill="#000099" stroke="#000099" stroke-width="0.3"/>
<polygon points="68.61,389.06 70.68,385.44 66.54,385.44" fill="#000099" stroke="#000099" stroke-width="0.3"/>
<polygon points="74.22,389.06 76.29,385.44 72.15,385.44" fill="#000099" stroke="#000099" stroke-width="0.3"/>
<polygon points="80.09,389.06 82.16,385.44 78.02,385.44" fill="#000099" stroke="#000099" stroke-width="0.3"/>
<polygon points="86.23,389.06 88.3,385.44 84.16,385.44" fill="#000099" stroke="#000099" stroke-width="0.3"/>
<polygon points="92.64,389.06 94.71,385.44 90.57,385.44" fill="#000099" stroke="#000099" stroke-width="0.3"/>
<polygon points="99.37,389.07 101.44,385.44 97.3,385.44" fill="#000099" stroke="#000099" stroke-width="0.3"/>
<polygon points="106.42,389.07 108.49,385.45 104.35,385.45" fill="#000099" stroke="#000099" stroke-width="0.3"/>
<polygon points="113.83,389.1 115.9,385.48 111.76,385.48" fill="#000099" stroke="#000099" stroke-width="0.3"/>
<polygon points="121.61,389.18 123.68,385.55 119.54,385.55" fill="#000099" stroke="#000099" stroke-width="0.3"/>
<polygon points="129.81,389.42 131.88,385.8 127.74,385.8" fill="#000099" stroke="#000099" stroke-width="0.3"/>
<polygon points="138.45,390.23 140.52,386.61 136.38,386.61" fill="#000099" stroke="#000099" stroke-width="0.3"/>
<polygon points="147.57,392.53 149.64,388.91 145.5,388.91" fill="#000099" stroke="#000099" stroke-width="0.3"/>
<polygon points="157.21,397.34 159.28,393.72 155.14,393.72" fill="#000099" stroke="#000099" stroke-width="0.3"/>
<polygon points="167.41,404.36 169.48,400.74 165.34,400.74" fill="#000099" stroke="#000099" stroke-width="0.3"/>
<polygon points="178.24,412.6 180.31,408.98 176.17,408.98" fill="#000099" stroke="#000099" stroke-width="0.3"/>
<polygon points="189.74,421.59 191.81,417.96 187.67,417.96" fill="#000099" stroke="#000099" stroke-width="0.3"/>
<polygon points="201.98,431.2 204.05,427.58 199.91,427.58" fill="#000099" stroke="#000099" stroke-width="0.3"/>
<polygon points="215.04,441.47 217.11,437.85 212.97,437.85" fill="#000099" stroke="#000099" stroke-width="0.3"/>
<polygon points="229.01,452.44 231.08,448.82 226.94,448.82" fill="#000099" stroke="#000099" stroke-width="0.3"/>
<polygon points="243.96,464.2 246.03,460.58 241.89,460.58" fill="#000099" stroke="#000099" stroke-width="0.3"/>
<polygon points="260.03,476.84 262.1,473.21 257.96,473.21" fill="#000099" stroke="#000099" stroke-width="0.3"/>
<polygon points="277.33,490.44 279.4,486.82 275.26,486.82" fill="#000099" stroke="#000099" stroke-width="0.3"/>
<polygon points="296.02,505.13 298.09,501.51 293.95,501.51" fill="#000099" stroke="#000099" stroke-width="0.3"/>
<polygon points="52.52,384.83 54.68,386.99 52.52,389.15 50.36,386.99" fill="#800080" stroke="#800080" stroke-width="0.3"/>
<polygon points="57.45,384.83 59.61,386.99 57.45,389.15 55.29,386.99" fill="#800080" stroke="#800080" stroke-width="0.3"/>
<polygon points="62.59,384.83 64.75,386.99 62.59,389.15 60.43,386.99" fill="#800080" stroke="#800080" stroke-width="0.3"/>
<polygon points="67.95,384.83 70.11,386.99 67.95,389.15 65.79,386.99" fill="#800080" stroke="#800080" stroke-width="0.3"/>
<polygon points="73.54,384.83 75.7,386.99 73.54,389.15 71.38,386.99" fill="#800080" stroke="#800080" stroke-width="0.3"/>
<polygon points="79.38,384.83 81.54,386.99 79.38,389.15 77.22,386.99" fill="#800080" stroke="#800080" stroke-width="0.3"/>
<polygon points="85.48,384.83 87.64,386.99 85.48,389.15 83.32,386.99" fill="#800080" stroke="#800080" stroke-width="0.3"/>
<polygon points="91.86,384.83 94.02,386.99 91.86,389.15 89.7,386.99" fill="#800080" stroke="#800080" stroke-width="0.3"/>
<polygon points="98.55,384.83 100.71,386.99 98.55,389.15 96.39,386.99" fill="#800080" stroke="#800080" stroke-width="0.3"/>
<polygon points="105.56,384.83 107.72,386.99 105.56,389.15 103.4,386.99" fill="#800080" stroke="#800080" stroke-width="0.3"/>
<polygon points="112.92,384.84 115.08,387 112.92,389.16 110.76,387" fill="#800080" stroke="#800080" stroke-width="0.3"/>
<polygon points="120.66,384.85 122.82,387.01 120.66,389.17 118.5,387.01" fill="#800080" stroke="#800080" stroke-width="0.3"/>
<polygon points="128.81,384.88 130.97,387.04 128.81,389.2 126.65,387.04" fill="#800080" stroke="#800080" stroke-width="0.3"/>
<polygon points="137.39,385.01 139.55,387.17 137.39,389.33 135.23,387.17" fill="#800080" stroke="#800080" stroke-width="0.3"/>
<polygon points="146.45,385.46 148.61,387.62 146.45,389.78 144.29,387.62" fill="#800080" stroke="#800080" stroke-width="0.3"/>
<polygon points="156.03,386.95 158.19,389.11 156.03,391.27 153.87,389.11" fill="#800080" stroke="#800080" stroke-width="0.3"/>
<polygon points="166.16,390.64 168.32,392.8 166.16,394.96 164,392.8" fill="#800080" stroke="#800080" stroke-width="0.3"/>
<polygon points="176.91,396.64 179.07,398.8 176.91,400.96 174.75,398.8" fill="#800080" stroke="#800080" stroke-width="0.3"/>
<polygon points="188.33,403.97 190.49,406.13 188.33,408.29 186.17,406.13" fill="#800080" stroke="#800080" stroke-width="0.3"/>
<polygon points="200.48,412.04 202.64,414.2 200.48,416.36 198.32,414.2" fill="#800080" stroke="#800080" stroke-width="0.3"/>
<polygon points="213.44,420.69 215.6,422.85 213.44,425.01 211.28,422.85" fill="#800080" stroke="#800080" stroke-width="0.3"/>
<polygon points="227.28,429.96 229.44,432.12 227.28,434.28 225.12,432.12" fill="#800080" stroke="#800080" stroke-width="0.3"/>
<polygon points="242.12,439.88 244.28,442.04 242.12,444.2 239.96,442.04" fill="#800080" stroke="#800080" stroke-width="0.3"/>
<polygon points="258.04,450.53 260.2,452.69 258.04,454.85 255.88,452.69" fill="#800080" stroke="#800080" stroke-width="0.3"/>
<polygon points="275.19,462 277.35,464.16 275.19,466.32 273.03,464.16" fill="#800080" stroke="#800080" stroke-width="0.3"/>
<polygon points="293.7,474.38 295.86,476.54 293.7,478.7 291.54,476.54" fill="#800080" stroke="#800080" stroke-width="0.3"/>
<polygon points="313.75,487.79 315.91,489.95 313.75,492.11 311.59,489.95" fill="#800080" stroke="#800080" stroke-width="0.3"/>
<polygon points="51.94,386.99 55.56,384.92 55.56,389.06" fill="#ff8000" stroke="#ff8000" stroke-width="0.3"/>
<polygon points="56.94,386.99 60.56,384.92 60.56,389.06" fill="#ff8000" stroke="#ff8000" stroke-width="0.3"/>
<polygon points="62.14,386.99 65.76,384.92 65.76,389.06" fill="#ff8000" stroke="#ff8000" stroke-width="0.3"/>
<polygon points="67.57,386.99 71.19,384.92 71.19,389.06" fill="#ff8000" stroke="#ff8000" stroke-width="0.3"/>
<polygon points="73.23,386.99 76.85,384.92 76.85,389.06" fill="#ff8000" stroke="#ff8000" stroke-width="0.3"/>
<polygon points="79.15,386.99 82.77,384.92 82.77,389.06" fill="#ff8000" stroke="#ff8000" stroke-width="0.3"/>
<polygon points="85.33,386.99 88.95,384.92 88.95,389.06" fill="#ff8000" stroke="#ff8000" stroke-width="0.3"/>
<polygon points="91.81,386.99 95.43,384.92 95.43,389.06" fill="#ff8000" stroke="#ff8000" stroke-width="0.3"/>
<polygon points="98.59,386.99 102.21,384.92 102.21,389.06" fill="#ff8000" stroke="#ff8000" stroke-width="0.3"/>
<polygon points="105.71,386.99 109.33,384.92 109.33,389.06" fill="#ff8000" stroke="#ff8000" stroke-width="0.3"/>
<polygon points="113.18,386.99 116.81,384.92 116.81,389.06" fill="#ff8000" stroke="#ff8000" stroke-width="0.3"/>
<polygon points="121.04,386.99 124.67,384.92 124.67,389.06" fill="#ff8000" stroke="#ff8000" stroke-width="0.3"/>
<polygon points="129.32,387 132.94,384.93 132.94,389.07" fill="#ff8000" stroke="#ff8000" stroke-width="0.3"/>
<polygon points="138.05,387.02 141.67,384.95 141.67,389.09" fill="#ff8000" stroke="#ff8000" stroke-width="0.3"/>
<polygon points="147.26,387.09 150.88,385.02 150.88,389.16" fill="#ff8000" stroke="#ff8000" stroke-width="0.3"/>
<polygon points="157,387.38 160.62,385.31 160.62,389.45" fill="#ff8000" stroke="#ff8000" stroke-width="0.3"/>
<polygon points="167.32,388.48 170.94,386.41 170.94,390.55" fill="#ff8000" stroke="#ff8000" stroke-width="0.3"/>
<polygon points="178.27,391.59 181.89,389.52 181.89,393.66" fill="#ff8000" stroke="#ff8000" stroke-width="0.3"/>
<polygon points="189.9,397 193.52,394.93 193.52,399.07" fill="#ff8000" stroke="#ff8000" stroke-width="0.3"/>
<polygon points="202.29,403.69 205.91,401.62 205.91,405.76" fill="#ff8000" stroke="#ff8000" stroke-width="0.3"/>
<polygon points="215.51,411.05 219.13,408.98 219.13,413.12" fill="#ff8000" stroke="#ff8000" stroke-width="0.3"/>
<polygon points="229.65,418.96 233.27,416.89 233.27,421.03" fill="#ff8000" stroke="#ff8000" stroke-width="0.3"/>
<polygon points="244.81,427.46 248.43,425.39 248.43,429.53" fill="#ff8000" stroke="#ff8000" stroke-width="0.3"/>
<polygon points="261.09,436.58 264.72,434.51 264.72,438.65" fill="#ff8000" stroke="#ff8000" stroke-width="0.3"/>
<polygon points="278.64,446.42 282.27,444.35 282.27,448.49" fill="#ff8000" stroke="#ff8000" stroke-width="0.3"/>
<polygon points="54.62,386.99 51,384.92 51,389.06" fill="#808000" stroke="#808000" stroke-width="0.3"/>
<polygon points="59.56,386.99 55.93,384.92 55.93,389.06" fill="#808000" stroke="#808000" stroke-width="0.3"/>
<polygon points="64.7,386.99 61.07,384.92 61.07,389.06" fill="#808000" stroke="#808000" stroke-width="0.3"/>
<polygon points="70.06,386.99 66.43,384.92 66.43,389.06" fill="#808000" stroke="#808000" stroke-width="0.3"/>
<polygon points="75.65,386.99 72.02,384.92 72.02,389.06" fill="#808000" stroke="#808000" stroke-width="0.3"/>
<polygon points="81.48,386.99 77.86,384.92 77.86,389.06" fill="#808000" stroke="#808000" stroke-width="0.3"/>
<polygon points="87.59,386.99 83.97,384.92 83.97,389.06" fill="#808000" stroke="#808000" stroke-width="0.3"/>
<polygon points="93.97,386.99 90.35,384.92 90.35,389.06" fill="#808000" stroke="#808000" stroke-width="0.3"/>
<polygon points="100.66,386.99 97.04,384.92 97.04,389.06" fill="#808000" stroke="#808000" stroke-width="0.3"/>
<polygon points="107.68,386.99 104.06,384.92 104.06,389.06" fill="#808000" stroke="#808000" stroke-width="0.3"/>
<polygon points="115.04,386.99 111.42,384.92 111.42,389.06" fill="#808000" stroke="#808000" stroke-width="0.3"/>
<polygon points="122.79,386.99 119.16,384.92 119.16,389.06" fill="#808000" stroke="#808000" stroke-width="0.3"/>
<polygon points="130.93,386.99 127.31,384.92 127.31,389.06" fill="#808000" stroke="#808000" stroke-width="0.3"/>
<polygon points="139.52,386.99 135.9,384.92 135.9,389.06" fill="#808000" stroke="#808000" stroke-width="0.3"/>
<polygon points="148.58,387 144.96,384.93 144.96,389.07" fill="#808000" stroke="#808000" stroke-width="0.3"/>
<polygon points="158.16,387.02 154.54,384.95 154.54,389.09" fill="#808000" stroke="#808000" stroke-width="0.3"/>
<polygon points="168.3,387.09 164.68,385.02 164.68,389.16" fill="#808000" stroke="#808000" stroke-width="0.3"/>
<polygon points="179.05,387.44 175.43,385.37 175.43,389.51" fill="#808000" stroke="#808000" stroke-width="0.3"/>
<polygon points="190.47,388.85 186.85,386.78 186.85,390.92" fill="#808000" stroke="#808000" stroke-width="0.3"/>
<polygon points="202.63,392.55 199.01,390.48 199.01,394.62" fill="#808000" stroke="#808000" stroke-width="0.3"/>
<polygon points="215.6,398.18 211.97,396.11 211.97,400.25" fill="#808000" stroke="#808000" stroke-width="0.3"/>
<polygon points="229.45,404.7 225.83,402.63 225.83,406.77" fill="#808000" stroke="#808000" stroke-width="0.3"/>
<polygon points="244.29,411.79 240.67,409.72 240.67,413.86" fill="#808000" stroke="#808000" stroke-width="0.3"/>
<polygon points="260.22,419.41 256.6,417.34 256.6,421.48" fill="#808000" stroke="#808000" stroke-width="0.3"/>
<polygon points="277.38,427.61 273.76,425.54 273.76,429.68" fill="#808000" stroke="#808000" stroke-width="0.3"/>
<polygon points="295.9,436.47 292.28,434.4 292.28,438.54" fill="#808000" stroke="#808000" stroke-width="0.3"/>
<line x1="53.1" y1="297.22" x2="223.14" y2="514.73" stroke="#000" stroke-width="1.3"/>
<line x1="53.1" y1="300.14" x2="234.07" y2="514.11" stroke="#000" stroke-width="1.3"/>
<line x1="53.1" y1="302.08" x2="242.57" y2="513.87" stroke="#000" stroke-width="1.3"/>
<line x1="53.1" y1="304.64" x2="216.83" y2="473.72" stroke="#000" stroke-width="1.3"/>
<line x1="53.1" y1="308.36" x2="213.67" y2="454.39" stroke="#000" stroke-width="1.3"/>
<line x1="53.1" y1="312.07" x2="246.22" y2="463.91" stroke="#000" stroke-width="1.3"/>
<line x1="53.1" y1="315.6" x2="316.66" y2="491.9" stroke="#000" stroke-width="1.3"/>
<line x1="53.1" y1="318.87" x2="280.71" y2="446.42" stroke="#000" stroke-width="1.3"/>
<line x1="53.1" y1="321.35" x2="293.83" y2="436.47" stroke="#000" stroke-width="1.3"/>
</g>
<rect x="53.1" y="289.0" width="291.5" height="213.8" fill="none" stroke="#000" stroke-width="1.9"/>
<line x1="53.1" y1="289" x2="57.5" y2="289" stroke="#000" stroke-width="1.2"/>
<text x="48" y="293.4" font-size="12.9" text-anchor="end" class="tl">-2.0</text>
<line x1="53.1" y1="296.13" x2="55.8" y2="296.13" stroke="#000" stroke-width="1.2"/>
<line x1="53.1" y1="303.25" x2="55.8" y2="303.25" stroke="#000" stroke-width="1.2"/>
<line x1="53.1" y1="310.38" x2="55.8" y2="310.38" stroke="#000" stroke-width="1.2"/>
<line x1="53.1" y1="317.51" x2="55.8" y2="317.51" stroke="#000" stroke-width="1.2"/>
<line x1="53.1" y1="324.63" x2="57.5" y2="324.63" stroke="#000" stroke-width="1.2"/>
<text x="48" y="329.03" font-size="12.9" text-anchor="end" class="tl">-2.5</text>
<line x1="53.1" y1="331.76" x2="55.8" y2="331.76" stroke="#000" stroke-width="1.2"/>
<line x1="53.1" y1="338.89" x2="55.8" y2="338.89" stroke="#000" stroke-width="1.2"/>
<line x1="53.1" y1="346.01" x2="55.8" y2="346.01" stroke="#000" stroke-width="1.2"/>
<line x1="53.1" y1="353.14" x2="55.8" y2="353.14" stroke="#000" stroke-width="1.2"/>
<line x1="53.1" y1="360.27" x2="57.5" y2="360.27" stroke="#000" stroke-width="1.2"/>
<text x="48" y="364.67" font-size="12.9" text-anchor="end" class="tl">-3.0</text>
<line x1="53.1" y1="367.39" x2="55.8" y2="367.39" stroke="#000" stroke-width="1.2"/>
<line x1="53.1" y1="374.52" x2="55.8" y2="374.52" stroke="#000" stroke-width="1.2"/>
<line x1="53.1" y1="381.65" x2="55.8" y2="381.65" stroke="#000" stroke-width="1.2"/>
<line x1="53.1" y1="388.77" x2="55.8" y2="388.77" stroke="#000" stroke-width="1.2"/>
<line x1="53.1" y1="395.9" x2="57.5" y2="395.9" stroke="#000" stroke-width="1.2"/>
<text x="48" y="400.3" font-size="12.9" text-anchor="end" class="tl">-3.5</text>
<line x1="53.1" y1="403.03" x2="55.8" y2="403.03" stroke="#000" stroke-width="1.2"/>
<line x1="53.1" y1="410.15" x2="55.8" y2="410.15" stroke="#000" stroke-width="1.2"/>
<line x1="53.1" y1="417.28" x2="55.8" y2="417.28" stroke="#000" stroke-width="1.2"/>
<line x1="53.1" y1="424.41" x2="55.8" y2="424.41" stroke="#000" stroke-width="1.2"/>
<line x1="53.1" y1="431.53" x2="57.5" y2="431.53" stroke="#000" stroke-width="1.2"/>
<text x="48" y="435.93" font-size="12.9" text-anchor="end" class="tl">-4.0</text>
<line x1="53.1" y1="438.66" x2="55.8" y2="438.66" stroke="#000" stroke-width="1.2"/>
<line x1="53.1" y1="445.79" x2="55.8" y2="445.79" stroke="#000" stroke-width="1.2"/>
<line x1="53.1" y1="452.91" x2="55.8" y2="452.91" stroke="#000" stroke-width="1.2"/>
<line x1="53.1" y1="460.04" x2="55.8" y2="460.04" stroke="#000" stroke-width="1.2"/>
<line x1="53.1" y1="467.17" x2="57.5" y2="467.17" stroke="#000" stroke-width="1.2"/>
<text x="48" y="471.57" font-size="12.9" text-anchor="end" class="tl">-4.5</text>
<line x1="53.1" y1="474.29" x2="55.8" y2="474.29" stroke="#000" stroke-width="1.2"/>
<line x1="53.1" y1="481.42" x2="55.8" y2="481.42" stroke="#000" stroke-width="1.2"/>
<line x1="53.1" y1="488.55" x2="55.8" y2="488.55" stroke="#000" stroke-width="1.2"/>
<line x1="53.1" y1="495.67" x2="55.8" y2="495.67" stroke="#000" stroke-width="1.2"/>
<line x1="53.1" y1="502.8" x2="57.5" y2="502.8" stroke="#000" stroke-width="1.2"/>
<text x="48" y="507.2" font-size="12.9" text-anchor="end" class="tl">-5.0</text>
<line x1="53.1" y1="502.8" x2="53.1" y2="498.4" stroke="#000" stroke-width="1.2"/>
<text x="53.1" y="518" font-size="12.9" text-anchor="middle" class="tl">0.10</text>
<line x1="62.82" y1="502.8" x2="62.82" y2="500.1" stroke="#000" stroke-width="1.2"/>
<line x1="72.53" y1="502.8" x2="72.53" y2="500.1" stroke="#000" stroke-width="1.2"/>
<line x1="82.25" y1="502.8" x2="82.25" y2="500.1" stroke="#000" stroke-width="1.2"/>
<line x1="91.97" y1="502.8" x2="91.97" y2="500.1" stroke="#000" stroke-width="1.2"/>
<line x1="101.68" y1="502.8" x2="101.68" y2="498.4" stroke="#000" stroke-width="1.2"/>
<text x="101.68" y="518" font-size="12.9" text-anchor="middle" class="tl">0.12</text>
<line x1="111.4" y1="502.8" x2="111.4" y2="500.1" stroke="#000" stroke-width="1.2"/>
<line x1="121.12" y1="502.8" x2="121.12" y2="500.1" stroke="#000" stroke-width="1.2"/>
<line x1="130.83" y1="502.8" x2="130.83" y2="500.1" stroke="#000" stroke-width="1.2"/>
<line x1="140.55" y1="502.8" x2="140.55" y2="500.1" stroke="#000" stroke-width="1.2"/>
<line x1="150.27" y1="502.8" x2="150.27" y2="498.4" stroke="#000" stroke-width="1.2"/>
<text x="150.27" y="518" font-size="12.9" text-anchor="middle" class="tl">0.14</text>
<line x1="159.98" y1="502.8" x2="159.98" y2="500.1" stroke="#000" stroke-width="1.2"/>
<line x1="169.7" y1="502.8" x2="169.7" y2="500.1" stroke="#000" stroke-width="1.2"/>
<line x1="179.42" y1="502.8" x2="179.42" y2="500.1" stroke="#000" stroke-width="1.2"/>
<line x1="189.13" y1="502.8" x2="189.13" y2="500.1" stroke="#000" stroke-width="1.2"/>
<line x1="198.85" y1="502.8" x2="198.85" y2="498.4" stroke="#000" stroke-width="1.2"/>
<text x="198.85" y="518" font-size="12.9" text-anchor="middle" class="tl">0.16</text>
<line x1="208.57" y1="502.8" x2="208.57" y2="500.1" stroke="#000" stroke-width="1.2"/>
<line x1="218.28" y1="502.8" x2="218.28" y2="500.1" stroke="#000" stroke-width="1.2"/>
<line x1="228" y1="502.8" x2="228" y2="500.1" stroke="#000" stroke-width="1.2"/>
<line x1="237.72" y1="502.8" x2="237.72" y2="500.1" stroke="#000" stroke-width="1.2"/>
<line x1="247.43" y1="502.8" x2="247.43" y2="498.4" stroke="#000" stroke-width="1.2"/>
<text x="247.43" y="518" font-size="12.9" text-anchor="middle" class="tl">0.18</text>
<line x1="257.15" y1="502.8" x2="257.15" y2="500.1" stroke="#000" stroke-width="1.2"/>
<line x1="266.87" y1="502.8" x2="266.87" y2="500.1" stroke="#000" stroke-width="1.2"/>
<line x1="276.58" y1="502.8" x2="276.58" y2="500.1" stroke="#000" stroke-width="1.2"/>
<line x1="286.3" y1="502.8" x2="286.3" y2="500.1" stroke="#000" stroke-width="1.2"/>
<line x1="296.02" y1="502.8" x2="296.02" y2="498.4" stroke="#000" stroke-width="1.2"/>
<text x="296.02" y="518" font-size="12.9" text-anchor="middle" class="tl">0.20</text>
<line x1="305.73" y1="502.8" x2="305.73" y2="500.1" stroke="#000" stroke-width="1.2"/>
<line x1="315.45" y1="502.8" x2="315.45" y2="500.1" stroke="#000" stroke-width="1.2"/>
<line x1="325.17" y1="502.8" x2="325.17" y2="500.1" stroke="#000" stroke-width="1.2"/>
<line x1="334.88" y1="502.8" x2="334.88" y2="500.1" stroke="#000" stroke-width="1.2"/>
<line x1="344.6" y1="502.8" x2="344.6" y2="498.4" stroke="#000" stroke-width="1.2"/>
<text x="344.6" y="518" font-size="12.9" text-anchor="middle" class="tl">0.22</text>
<text x="0.6" y="291.8" font-size="15.5" text-anchor="start" >(b)</text>
<text transform="translate(19.0,451.6) rotate(-90)" font-size="17.3" letter-spacing="-0.62">Ln<tspan font-size="21">(</tspan><tspan font-style="italic">ρ</tspan> <tspan font-size="21">(</tspan>Ω−cm<tspan font-size="21">))</tspan></text>
<text x="171" y="541.3" font-size="17">1/T(K<tspan dy="-6" font-size="10">-1</tspan><tspan dy="6">)</tspan></text>
<text x="95" y="313.5" font-size="11.8">T<tspan dy="4.5" font-size="7.5">c</tspan><tspan dy="-4.5">~ 8.9 K</tspan></text>
<line x1="102.4" y1="320.2" x2="87" y2="330.4" stroke="#000" stroke-width="1.5"/>
<polygon points="83.9,332.5 88.3,325.9 91.5,331.0" fill="#000"/>
<text x="172.6" y="308.1" font-size="13.3">FeTe<tspan dy="5" font-size="7.9">0.75</tspan><tspan dy="-5">S</tspan><tspan dy="5" font-size="7.9">0.25</tspan></text>
<text x="172.6" y="329.1" font-size="14" text-anchor="start" >Single Crystal</text>
<g opacity="0.8"><line x1="275" y1="301" x2="284" y2="301" stroke="#555555" stroke-width="1.4"/><line x1="291" y1="301" x2="299.6" y2="301" stroke="#555555" stroke-width="1.4"/></g>
<circle cx="287.4" cy="301" r="2.1" fill="#000"/><circle cx="286.8" cy="300.4" r="0.8" fill="#fff"/>
<text x="302" y="305" font-size="10.9" text-anchor="start" >10 kOe</text>
<g opacity="0.8"><line x1="275" y1="314.2" x2="284" y2="314.2" stroke="#0000ff" stroke-width="1.4"/><line x1="291" y1="314.2" x2="299.6" y2="314.2" stroke="#0000ff" stroke-width="1.4"/></g>
<rect x="285.2" y="312" width="4.4" height="4.4" fill="#0000ff" stroke="#0000ff" stroke-width="0.3"/>
<text x="302" y="318.2" font-size="10.9" text-anchor="start" >20 kOe</text>
<g opacity="0.8"><line x1="275" y1="327.4" x2="284" y2="327.4" stroke="#ff00ff" stroke-width="1.4"/><line x1="291" y1="327.4" x2="299.6" y2="327.4" stroke="#ff00ff" stroke-width="1.4"/></g>
<polygon points="287.4,324.87 289.93,329.3 284.87,329.3" fill="#ff00ff" stroke="#ff00ff" stroke-width="0.3"/>
<text x="302" y="331.4" font-size="10.9" text-anchor="start" >30 kOe</text>
<g opacity="0.8"><line x1="275" y1="340.6" x2="284" y2="340.6" stroke="#333399" stroke-width="1.4"/><line x1="291" y1="340.6" x2="299.6" y2="340.6" stroke="#333399" stroke-width="1.4"/></g>
<polygon points="287.4,338.18 289.7,339.85 288.82,342.56 285.98,342.56 285.1,339.85" fill="#000080" stroke="#000080" stroke-width="0.3"/>
<text x="302" y="344.6" font-size="10.9" text-anchor="start" >40 kOe</text>
<g opacity="0.8"><line x1="275" y1="353.8" x2="284" y2="353.8" stroke="#ff3399" stroke-width="1.4"/><line x1="291" y1="353.8" x2="299.6" y2="353.8" stroke="#ff3399" stroke-width="1.4"/></g>
<circle cx="287.4" cy="353.8" r="2.2" fill="#ff1493" stroke="#ff1493" stroke-width="0.3"/>
<text x="302" y="357.8" font-size="10.9" text-anchor="start" >60 kOe</text>
<g opacity="0.8"><line x1="275" y1="367" x2="284" y2="367" stroke="#3333cc" stroke-width="1.4"/><line x1="291" y1="367" x2="299.6" y2="367" stroke="#3333cc" stroke-width="1.4"/></g>
<polygon points="287.4,369.53 289.93,365.1 284.87,365.1" fill="#000099" stroke="#000099" stroke-width="0.3"/>
<text x="302" y="371" font-size="10.9" text-anchor="start" >80 kOe</text>
<g opacity="0.8"><line x1="275" y1="380.2" x2="284" y2="380.2" stroke="#800080" stroke-width="1.4"/><line x1="291" y1="380.2" x2="299.6" y2="380.2" stroke="#800080" stroke-width="1.4"/></g>
<polygon points="287.4,377.56 290.04,380.2 287.4,382.84 284.76,380.2" fill="#800080" stroke="#800080" stroke-width="0.3"/>
<text x="302" y="384.2" font-size="10.9" text-anchor="start" >100 kOe</text>
<g opacity="0.8"><line x1="275" y1="393.4" x2="284" y2="393.4" stroke="#ff8000" stroke-width="1.4"/><line x1="291" y1="393.4" x2="299.6" y2="393.4" stroke="#ff8000" stroke-width="1.4"/></g>
<polygon points="284.87,393.4 289.3,390.87 289.3,395.93" fill="#ff8000" stroke="#ff8000" stroke-width="0.3"/>
<text x="302" y="397.4" font-size="10.9" text-anchor="start" >120 kOe</text>
<g opacity="0.8"><line x1="275" y1="406.6" x2="284" y2="406.6" stroke="#808000" stroke-width="1.4"/><line x1="291" y1="406.6" x2="299.6" y2="406.6" stroke="#808000" stroke-width="1.4"/></g>
<polygon points="289.93,406.6 285.5,404.07 285.5,409.13" fill="#808000" stroke="#808000" stroke-width="0.3"/>
<text x="302" y="410.6" font-size="10.9" text-anchor="start" >140 kOe</text>
<rect x="39.6" y="564.0" width="317.59999999999997" height="233.60000000000002" fill="none" stroke="#000" stroke-width="1.7"/>
<line x1="39.6" y1="797.6" x2="45.1" y2="797.6" stroke="#000" stroke-width="1.2"/>
<line x1="39.6" y1="743.32" x2="42.8" y2="743.32" stroke="#000" stroke-width="1.2"/>
<line x1="39.6" y1="711.58" x2="42.8" y2="711.58" stroke="#000" stroke-width="1.2"/>
<line x1="39.6" y1="689.05" x2="42.8" y2="689.05" stroke="#000" stroke-width="1.2"/>
<line x1="39.6" y1="671.58" x2="42.8" y2="671.58" stroke="#000" stroke-width="1.2"/>
<line x1="39.6" y1="657.3" x2="42.8" y2="657.3" stroke="#000" stroke-width="1.2"/>
<line x1="39.6" y1="645.23" x2="42.8" y2="645.23" stroke="#000" stroke-width="1.2"/>
<line x1="39.6" y1="634.77" x2="42.8" y2="634.77" stroke="#000" stroke-width="1.2"/>
<line x1="39.6" y1="625.55" x2="42.8" y2="625.55" stroke="#000" stroke-width="1.2"/>
<line x1="39.6" y1="617.3" x2="45.1" y2="617.3" stroke="#000" stroke-width="1.2"/>
<text x="34.5" y="802.4" font-size="14" text-anchor="end" >10</text>
<text x="34.5" y="622.1" font-size="14" text-anchor="end" >100</text>
<line x1="58.91" y1="797.6" x2="58.91" y2="794.4" stroke="#000" stroke-width="1.2"/>
<line x1="74.61" y1="797.6" x2="74.61" y2="794.4" stroke="#000" stroke-width="1.2"/>
<line x1="87.88" y1="797.6" x2="87.88" y2="794.4" stroke="#000" stroke-width="1.2"/>
<line x1="99.38" y1="797.6" x2="99.38" y2="794.4" stroke="#000" stroke-width="1.2"/>
<line x1="109.53" y1="797.6" x2="109.53" y2="794.4" stroke="#000" stroke-width="1.2"/>
<line x1="118.6" y1="797.6" x2="118.6" y2="792.1" stroke="#000" stroke-width="1.2"/>
<line x1="178.29" y1="797.6" x2="178.29" y2="794.4" stroke="#000" stroke-width="1.2"/>
<line x1="213.21" y1="797.6" x2="213.21" y2="794.4" stroke="#000" stroke-width="1.2"/>
<line x1="237.99" y1="797.6" x2="237.99" y2="794.4" stroke="#000" stroke-width="1.2"/>
<line x1="257.21" y1="797.6" x2="257.21" y2="794.4" stroke="#000" stroke-width="1.2"/>
<line x1="272.91" y1="797.6" x2="272.91" y2="794.4" stroke="#000" stroke-width="1.2"/>
<line x1="286.18" y1="797.6" x2="286.18" y2="794.4" stroke="#000" stroke-width="1.2"/>
<line x1="297.68" y1="797.6" x2="297.68" y2="794.4" stroke="#000" stroke-width="1.2"/>
<line x1="307.83" y1="797.6" x2="307.83" y2="794.4" stroke="#000" stroke-width="1.2"/>
<line x1="316.9" y1="797.6" x2="316.9" y2="792.1" stroke="#000" stroke-width="1.2"/>
<text x="118.6" y="814" font-size="13.5" text-anchor="middle" >1</text>
<text x="316.9" y="814" font-size="13.5" text-anchor="middle" >10</text>
<text x="0.5" y="569.2" font-size="16.5" text-anchor="start" >(c)</text>
<text transform="translate(19.6,732) rotate(-90)" font-size="19"><tspan font-style="italic">U</tspan><tspan dy="5.5" font-size="11.5" font-style="italic">0</tspan><tspan dy="-5.5">/</tspan><tspan font-style="italic">k</tspan><tspan dy="5.5" font-size="11.5" font-style="italic">B</tspan><tspan dy="-5.5">(K)</tspan></text>
<text x="160.5" y="832.1" font-size="17.8"><tspan font-style="italic">μ</tspan><tspan dy="5" font-size="10" font-style="italic">0</tspan><tspan dy="-5" dx="-1.5" font-style="italic">H</tspan>(Tesla)</text>
<text x="57.7" y="623" font-size="16.3">FeTe<tspan dy="5.5" font-size="10.4">1-x</tspan><tspan dy="-5.5">S</tspan><tspan dy="5.5" font-size="10.4">x</tspan><tspan dy="-5.5"> (x=0.10 and 0.25)</tspan></text>
<text x="57.7" y="649.1" font-size="16.2" text-anchor="start" >Single Crystals</text>
<rect x="55.7" y="572.5" width="6.2" height="6.2" fill="#000"/>
<rect x="114.9" y="574.4" width="6.2" height="6.2" fill="#000"/>
<rect x="174.7" y="580.4" width="6.2" height="6.2" fill="#000"/>
<rect x="235.1" y="592.1" width="6.2" height="6.2" fill="#000"/>
<rect x="268.9" y="605.1" width="6.2" height="6.2" fill="#000"/>
<rect x="293.8" y="619.1" width="6.2" height="6.2" fill="#000"/>
<rect x="304.7" y="625.5" width="6.2" height="6.2" fill="#000"/>
<rect x="313.6" y="632.5" width="6.2" height="6.2" fill="#000"/>
<rect x="329.1" y="648.4" width="6.2" height="6.2" fill="#000"/>
<defs><radialGradient id="rb" cx="0.4" cy="0.38" r="0.62"><stop offset="0" stop-color="#fff0f0"/><stop offset="0.3" stop-color="#ff6060"/><stop offset="0.75" stop-color="#ff0000"/><stop offset="1" stop-color="#d00000"/></radialGradient></defs>
<circle cx="118.3" cy="683.3" r="3.4" fill="url(#rb)"/>
<circle cx="177.8" cy="689.2" r="3.4" fill="url(#rb)"/>
<circle cx="212.6" cy="694.2" r="3.4" fill="url(#rb)"/>
<circle cx="237.6" cy="700.6" r="3.4" fill="url(#rb)"/>
<circle cx="271.9" cy="709.7" r="3.4" fill="url(#rb)"/>
<circle cx="297.1" cy="721.2" r="3.4" fill="url(#rb)"/>
<circle cx="316.1" cy="734" r="3.4" fill="url(#rb)"/>
<circle cx="331.5" cy="746.3" r="3.4" fill="url(#rb)"/>
<circle cx="344.7" cy="759.1" r="3.4" fill="url(#rb)"/>
<line x1="46.3" y1="575.6" x2="237.2" y2="587.6" stroke="#0000ff" stroke-width="2.3"/>
<line x1="202.4" y1="577.4" x2="351.6" y2="650.5" stroke="#0000ff" stroke-width="2.3"/>
<line x1="105.4" y1="682.6" x2="280.8" y2="699.1" stroke="#008000" stroke-width="2.3"/>
<line x1="234.4" y1="684.6" x2="354.5" y2="761.8" stroke="#008000" stroke-width="2.3"/>
<rect x="71.3" y="746" width="6" height="6" fill="#000"/>
<circle cx="74.3" cy="766.3" r="3.3" fill="url(#rb)"/>
<text x="94.1" y="752.9" font-size="14" text-anchor="start" >x=0.10</text>
<text x="94.1" y="770.5" font-size="14" text-anchor="start" >x=0.25</text>
</svg></body></html>
